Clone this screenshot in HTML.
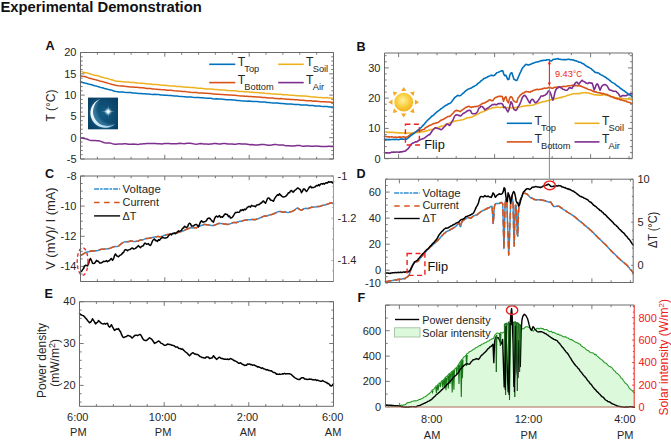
<!DOCTYPE html>
<html><head><meta charset="utf-8"><style>
html,body{margin:0;padding:0;background:#fff;overflow:hidden;width:671px;height:441px;}
svg{display:block;}
svg text{font-family:"Liberation Sans",sans-serif;}
</style></head><body>
<svg width="671" height="441" viewBox="0 0 671 441">
<rect width="671" height="441" fill="#fff"/>
<text x="0.5" y="11.8" font-size="14.2" text-anchor="start" fill="#111" font-weight="bold" textLength="201.3" lengthAdjust="spacingAndGlyphs" >Experimental Demonstration</text>
<text x="45.4" y="50.2" font-size="12.6" text-anchor="start" fill="#111" font-weight="bold"  >A</text>
<text x="356.6" y="50.5" font-size="12.6" text-anchor="start" fill="#111" font-weight="bold"  >B</text>
<text x="44.9" y="178.3" font-size="12.6" text-anchor="start" fill="#111" font-weight="bold"  >C</text>
<text x="356.6" y="178.2" font-size="12.6" text-anchor="start" fill="#111" font-weight="bold"  >D</text>
<text x="44.6" y="297.5" font-size="12.6" text-anchor="start" fill="#111" font-weight="bold"  >E</text>
<text x="357.5" y="302.3" font-size="12.6" text-anchor="start" fill="#111" font-weight="bold"  >F</text>
<text x="76.5" y="162.8" font-size="11.0" text-anchor="end" fill="#262626" font-weight="normal"  >-5</text>
<text x="76.5" y="141.5" font-size="11.0" text-anchor="end" fill="#262626" font-weight="normal"  >0</text>
<text x="76.5" y="120.2" font-size="11.0" text-anchor="end" fill="#262626" font-weight="normal"  >5</text>
<text x="76.5" y="98.89999999999999" font-size="11.0" text-anchor="end" fill="#262626" font-weight="normal"  >10</text>
<text x="76.5" y="77.6" font-size="11.0" text-anchor="end" fill="#262626" font-weight="normal"  >15</text>
<text x="76.5" y="56.3" font-size="11.0" text-anchor="end" fill="#262626" font-weight="normal"  >20</text>
<line x1="80.5" y1="159.0" x2="84.7" y2="159.0" stroke="#6a6a6a" stroke-width="0.9"/>
<line x1="80.5" y1="154.7" x2="82.7" y2="154.7" stroke="#6a6a6a" stroke-width="0.9"/>
<line x1="80.5" y1="150.5" x2="82.7" y2="150.5" stroke="#6a6a6a" stroke-width="0.9"/>
<line x1="80.5" y1="146.2" x2="82.7" y2="146.2" stroke="#6a6a6a" stroke-width="0.9"/>
<line x1="80.5" y1="142.0" x2="82.7" y2="142.0" stroke="#6a6a6a" stroke-width="0.9"/>
<line x1="80.5" y1="137.7" x2="84.7" y2="137.7" stroke="#6a6a6a" stroke-width="0.9"/>
<line x1="80.5" y1="133.4" x2="82.7" y2="133.4" stroke="#6a6a6a" stroke-width="0.9"/>
<line x1="80.5" y1="129.2" x2="82.7" y2="129.2" stroke="#6a6a6a" stroke-width="0.9"/>
<line x1="80.5" y1="124.9" x2="82.7" y2="124.9" stroke="#6a6a6a" stroke-width="0.9"/>
<line x1="80.5" y1="120.7" x2="82.7" y2="120.7" stroke="#6a6a6a" stroke-width="0.9"/>
<line x1="80.5" y1="116.4" x2="84.7" y2="116.4" stroke="#6a6a6a" stroke-width="0.9"/>
<line x1="80.5" y1="112.1" x2="82.7" y2="112.1" stroke="#6a6a6a" stroke-width="0.9"/>
<line x1="80.5" y1="107.9" x2="82.7" y2="107.9" stroke="#6a6a6a" stroke-width="0.9"/>
<line x1="80.5" y1="103.6" x2="82.7" y2="103.6" stroke="#6a6a6a" stroke-width="0.9"/>
<line x1="80.5" y1="99.4" x2="82.7" y2="99.4" stroke="#6a6a6a" stroke-width="0.9"/>
<line x1="80.5" y1="95.1" x2="84.7" y2="95.1" stroke="#6a6a6a" stroke-width="0.9"/>
<line x1="80.5" y1="90.8" x2="82.7" y2="90.8" stroke="#6a6a6a" stroke-width="0.9"/>
<line x1="80.5" y1="86.6" x2="82.7" y2="86.6" stroke="#6a6a6a" stroke-width="0.9"/>
<line x1="80.5" y1="82.3" x2="82.7" y2="82.3" stroke="#6a6a6a" stroke-width="0.9"/>
<line x1="80.5" y1="78.1" x2="82.7" y2="78.1" stroke="#6a6a6a" stroke-width="0.9"/>
<line x1="80.5" y1="73.8" x2="84.7" y2="73.8" stroke="#6a6a6a" stroke-width="0.9"/>
<line x1="80.5" y1="69.5" x2="82.7" y2="69.5" stroke="#6a6a6a" stroke-width="0.9"/>
<line x1="80.5" y1="65.3" x2="82.7" y2="65.3" stroke="#6a6a6a" stroke-width="0.9"/>
<line x1="80.5" y1="61.0" x2="82.7" y2="61.0" stroke="#6a6a6a" stroke-width="0.9"/>
<line x1="80.5" y1="56.8" x2="82.7" y2="56.8" stroke="#6a6a6a" stroke-width="0.9"/>
<line x1="80.5" y1="52.5" x2="84.7" y2="52.5" stroke="#6a6a6a" stroke-width="0.9"/>
<line x1="333.5" y1="159.0" x2="329.3" y2="159.0" stroke="#6a6a6a" stroke-width="0.9"/>
<line x1="333.5" y1="154.7" x2="331.3" y2="154.7" stroke="#6a6a6a" stroke-width="0.9"/>
<line x1="333.5" y1="150.5" x2="331.3" y2="150.5" stroke="#6a6a6a" stroke-width="0.9"/>
<line x1="333.5" y1="146.2" x2="331.3" y2="146.2" stroke="#6a6a6a" stroke-width="0.9"/>
<line x1="333.5" y1="142.0" x2="331.3" y2="142.0" stroke="#6a6a6a" stroke-width="0.9"/>
<line x1="333.5" y1="137.7" x2="329.3" y2="137.7" stroke="#6a6a6a" stroke-width="0.9"/>
<line x1="333.5" y1="133.4" x2="331.3" y2="133.4" stroke="#6a6a6a" stroke-width="0.9"/>
<line x1="333.5" y1="129.2" x2="331.3" y2="129.2" stroke="#6a6a6a" stroke-width="0.9"/>
<line x1="333.5" y1="124.9" x2="331.3" y2="124.9" stroke="#6a6a6a" stroke-width="0.9"/>
<line x1="333.5" y1="120.7" x2="331.3" y2="120.7" stroke="#6a6a6a" stroke-width="0.9"/>
<line x1="333.5" y1="116.4" x2="329.3" y2="116.4" stroke="#6a6a6a" stroke-width="0.9"/>
<line x1="333.5" y1="112.1" x2="331.3" y2="112.1" stroke="#6a6a6a" stroke-width="0.9"/>
<line x1="333.5" y1="107.9" x2="331.3" y2="107.9" stroke="#6a6a6a" stroke-width="0.9"/>
<line x1="333.5" y1="103.6" x2="331.3" y2="103.6" stroke="#6a6a6a" stroke-width="0.9"/>
<line x1="333.5" y1="99.4" x2="331.3" y2="99.4" stroke="#6a6a6a" stroke-width="0.9"/>
<line x1="333.5" y1="95.1" x2="329.3" y2="95.1" stroke="#6a6a6a" stroke-width="0.9"/>
<line x1="333.5" y1="90.8" x2="331.3" y2="90.8" stroke="#6a6a6a" stroke-width="0.9"/>
<line x1="333.5" y1="86.6" x2="331.3" y2="86.6" stroke="#6a6a6a" stroke-width="0.9"/>
<line x1="333.5" y1="82.3" x2="331.3" y2="82.3" stroke="#6a6a6a" stroke-width="0.9"/>
<line x1="333.5" y1="78.1" x2="331.3" y2="78.1" stroke="#6a6a6a" stroke-width="0.9"/>
<line x1="333.5" y1="73.8" x2="329.3" y2="73.8" stroke="#6a6a6a" stroke-width="0.9"/>
<line x1="333.5" y1="69.5" x2="331.3" y2="69.5" stroke="#6a6a6a" stroke-width="0.9"/>
<line x1="333.5" y1="65.3" x2="331.3" y2="65.3" stroke="#6a6a6a" stroke-width="0.9"/>
<line x1="333.5" y1="61.0" x2="331.3" y2="61.0" stroke="#6a6a6a" stroke-width="0.9"/>
<line x1="333.5" y1="56.8" x2="331.3" y2="56.8" stroke="#6a6a6a" stroke-width="0.9"/>
<line x1="333.5" y1="52.5" x2="329.3" y2="52.5" stroke="#6a6a6a" stroke-width="0.9"/>
<line x1="80.5" y1="159.0" x2="80.5" y2="154.8" stroke="#6a6a6a" stroke-width="0.9"/>
<line x1="80.5" y1="52.5" x2="80.5" y2="56.7" stroke="#6a6a6a" stroke-width="0.9"/>
<line x1="97.4" y1="159.0" x2="97.4" y2="156.8" stroke="#6a6a6a" stroke-width="0.9"/>
<line x1="97.4" y1="52.5" x2="97.4" y2="54.7" stroke="#6a6a6a" stroke-width="0.9"/>
<line x1="114.2" y1="159.0" x2="114.2" y2="156.8" stroke="#6a6a6a" stroke-width="0.9"/>
<line x1="114.2" y1="52.5" x2="114.2" y2="54.7" stroke="#6a6a6a" stroke-width="0.9"/>
<line x1="131.1" y1="159.0" x2="131.1" y2="156.8" stroke="#6a6a6a" stroke-width="0.9"/>
<line x1="131.1" y1="52.5" x2="131.1" y2="54.7" stroke="#6a6a6a" stroke-width="0.9"/>
<line x1="148.0" y1="159.0" x2="148.0" y2="156.8" stroke="#6a6a6a" stroke-width="0.9"/>
<line x1="148.0" y1="52.5" x2="148.0" y2="54.7" stroke="#6a6a6a" stroke-width="0.9"/>
<line x1="164.8" y1="159.0" x2="164.8" y2="154.8" stroke="#6a6a6a" stroke-width="0.9"/>
<line x1="164.8" y1="52.5" x2="164.8" y2="56.7" stroke="#6a6a6a" stroke-width="0.9"/>
<line x1="181.7" y1="159.0" x2="181.7" y2="156.8" stroke="#6a6a6a" stroke-width="0.9"/>
<line x1="181.7" y1="52.5" x2="181.7" y2="54.7" stroke="#6a6a6a" stroke-width="0.9"/>
<line x1="198.6" y1="159.0" x2="198.6" y2="156.8" stroke="#6a6a6a" stroke-width="0.9"/>
<line x1="198.6" y1="52.5" x2="198.6" y2="54.7" stroke="#6a6a6a" stroke-width="0.9"/>
<line x1="215.4" y1="159.0" x2="215.4" y2="156.8" stroke="#6a6a6a" stroke-width="0.9"/>
<line x1="215.4" y1="52.5" x2="215.4" y2="54.7" stroke="#6a6a6a" stroke-width="0.9"/>
<line x1="232.3" y1="159.0" x2="232.3" y2="156.8" stroke="#6a6a6a" stroke-width="0.9"/>
<line x1="232.3" y1="52.5" x2="232.3" y2="54.7" stroke="#6a6a6a" stroke-width="0.9"/>
<line x1="249.2" y1="159.0" x2="249.2" y2="154.8" stroke="#6a6a6a" stroke-width="0.9"/>
<line x1="249.2" y1="52.5" x2="249.2" y2="56.7" stroke="#6a6a6a" stroke-width="0.9"/>
<line x1="266.0" y1="159.0" x2="266.0" y2="156.8" stroke="#6a6a6a" stroke-width="0.9"/>
<line x1="266.0" y1="52.5" x2="266.0" y2="54.7" stroke="#6a6a6a" stroke-width="0.9"/>
<line x1="282.9" y1="159.0" x2="282.9" y2="156.8" stroke="#6a6a6a" stroke-width="0.9"/>
<line x1="282.9" y1="52.5" x2="282.9" y2="54.7" stroke="#6a6a6a" stroke-width="0.9"/>
<line x1="299.8" y1="159.0" x2="299.8" y2="156.8" stroke="#6a6a6a" stroke-width="0.9"/>
<line x1="299.8" y1="52.5" x2="299.8" y2="54.7" stroke="#6a6a6a" stroke-width="0.9"/>
<line x1="316.6" y1="159.0" x2="316.6" y2="156.8" stroke="#6a6a6a" stroke-width="0.9"/>
<line x1="316.6" y1="52.5" x2="316.6" y2="54.7" stroke="#6a6a6a" stroke-width="0.9"/>
<line x1="333.5" y1="159.0" x2="333.5" y2="154.8" stroke="#6a6a6a" stroke-width="0.9"/>
<line x1="333.5" y1="52.5" x2="333.5" y2="56.7" stroke="#6a6a6a" stroke-width="0.9"/>
<text transform="translate(54.7,105.5) rotate(-90)" font-size="12" text-anchor="middle" fill="#262626">T (°C)</text>
<polyline points="80.5,71.1 82.5,71.9 84.5,72.4 86.5,72.8 88.5,73.4 90.5,74.0 92.5,74.6 94.5,75.2 96.5,75.5 98.5,76.0 100.5,76.8 102.5,77.3 104.5,77.9 106.6,78.2 108.6,78.9 110.6,79.6 112.6,80.0 114.6,80.7 116.6,81.3 118.6,81.2 120.6,81.4 122.6,81.7 124.6,82.0 126.6,82.0 128.6,82.1 130.6,82.4 132.6,82.4 134.6,82.6 136.6,82.9 138.6,83.1 140.6,83.2 142.6,83.3 144.6,83.5 146.6,83.7 148.6,83.9 150.6,83.9 152.6,84.4 154.6,84.5 156.7,84.6 158.7,84.7 160.7,85.1 162.7,85.2 164.7,85.2 166.7,85.4 168.7,85.7 170.7,85.9 172.7,86.1 174.7,86.1 176.7,86.4 178.7,86.5 180.7,86.6 182.7,86.9 184.7,87.1 186.7,87.3 188.7,87.3 190.7,87.5 192.7,87.5 194.7,87.8 196.7,88.1 198.7,88.2 200.7,88.3 202.7,88.5 204.7,88.7 206.8,88.9 208.8,88.9 210.8,89.1 212.8,89.3 214.8,89.5 216.8,89.6 218.8,89.7 220.8,89.9 222.8,89.9 224.8,90.0 226.8,90.4 228.8,90.6 230.8,90.7 232.8,90.8 234.8,90.8 236.8,91.1 238.8,91.4 240.8,91.5 242.8,91.6 244.8,91.8 246.8,91.8 248.8,92.0 250.8,92.3 252.8,92.3 254.8,92.5 256.8,92.5 258.9,92.8 260.9,93.1 262.9,92.9 264.9,93.3 266.9,93.5 268.9,93.6 270.9,93.8 272.9,93.9 274.9,94.0 276.9,94.2 278.9,94.3 280.9,94.3 282.9,94.7 284.9,94.8 286.9,94.8 288.9,95.1 290.9,95.2 292.9,95.3 294.9,95.5 296.9,95.7 298.9,95.8 300.9,96.0 302.9,96.1 304.9,96.1 306.9,96.3 309.0,96.5 311.0,96.8 313.0,97.0 315.0,97.1 317.0,97.3 319.0,97.4 321.0,97.4 323.0,97.7 325.0,97.8 327.0,97.8 329.0,98.0 331.0,98.1 333.0,98.5" fill="none" stroke="#EDB120" stroke-width="1.5" stroke-linejoin="round" stroke-linecap="round" />
<polyline points="80.5,75.7 82.5,76.3 84.5,76.6 86.5,77.1 88.5,77.9 90.5,78.4 92.5,79.0 94.5,79.4 96.5,80.1 98.5,80.6 100.5,81.2 102.5,81.6 104.5,82.2 106.6,82.8 108.6,83.4 110.6,84.1 112.6,84.6 114.6,85.0 116.6,85.6 118.6,85.8 120.6,85.9 122.6,86.0 124.6,86.3 126.6,86.5 128.6,86.7 130.6,87.0 132.6,87.1 134.6,87.2 136.6,87.3 138.6,87.4 140.6,87.7 142.6,87.8 144.6,88.1 146.6,88.4 148.6,88.5 150.6,88.5 152.6,88.9 154.6,89.1 156.7,89.2 158.7,89.4 160.7,89.6 162.7,89.7 164.7,89.8 166.7,90.2 168.7,90.3 170.7,90.3 172.7,90.6 174.7,90.8 176.7,90.9 178.7,91.1 180.7,91.2 182.7,91.5 184.7,91.6 186.7,91.8 188.7,91.9 190.7,92.2 192.7,92.4 194.7,92.4 196.7,92.6 198.7,92.9 200.7,93.0 202.7,93.1 204.7,93.2 206.8,93.3 208.8,93.6 210.8,93.6 212.8,93.9 214.8,93.9 216.8,94.2 218.8,94.2 220.8,94.5 222.8,94.6 224.8,94.7 226.8,94.8 228.8,95.0 230.8,95.1 232.8,95.2 234.8,95.3 236.8,95.6 238.8,95.8 240.8,95.9 242.8,95.9 244.8,96.2 246.8,96.3 248.8,96.5 250.8,96.5 252.8,96.8 254.8,96.7 256.8,97.0 258.9,97.1 260.9,97.2 262.9,97.5 264.9,97.5 266.9,97.7 268.9,98.0 270.9,97.9 272.9,98.1 274.9,98.4 276.9,98.4 278.9,98.7 280.9,98.6 282.9,98.8 284.9,98.9 286.9,99.2 288.9,99.2 290.9,99.6 292.9,99.5 294.9,99.8 296.9,99.8 298.9,100.0 300.9,100.3 302.9,100.2 304.9,100.4 306.9,100.7 309.0,100.7 311.0,100.8 313.0,101.2 315.0,101.1 317.0,101.2 319.0,101.4 321.0,101.7 323.0,101.8 325.0,101.8 327.0,102.0 329.0,102.1 331.0,102.3 333.0,102.6" fill="none" stroke="#D95319" stroke-width="1.5" stroke-linejoin="round" stroke-linecap="round" />
<polyline points="80.5,81.8 82.5,82.5 84.5,82.9 86.5,83.5 88.5,84.1 90.5,84.5 92.5,85.0 94.5,85.8 96.5,86.1 98.5,86.7 100.5,87.4 102.5,87.8 104.5,88.5 106.6,88.9 108.6,89.5 110.6,89.9 112.6,90.5 114.6,91.2 116.6,91.6 118.6,91.9 120.6,92.0 122.6,92.0 124.6,92.3 126.6,92.4 128.6,92.5 130.6,92.5 132.6,92.9 134.6,93.0 136.6,93.2 138.6,93.4 140.6,93.5 142.6,93.7 144.6,93.7 146.6,93.9 148.6,94.0 150.6,94.3 152.6,94.4 154.6,94.3 156.7,94.5 158.7,94.6 160.7,95.0 162.7,95.0 164.7,95.2 166.7,95.2 168.7,95.4 170.7,95.5 172.7,95.7 174.7,95.9 176.7,96.0 178.7,96.3 180.7,96.4 182.7,96.6 184.7,96.7 186.7,96.9 188.7,96.9 190.7,96.9 192.7,97.3 194.7,97.5 196.7,97.6 198.7,97.6 200.7,97.8 202.7,97.8 204.7,98.1 206.8,98.2 208.8,98.3 210.8,98.3 212.8,98.7 214.8,98.9 216.8,98.8 218.8,99.1 220.8,99.1 222.8,99.2 224.8,99.4 226.8,99.7 228.8,99.8 230.8,99.7 232.8,100.1 234.8,100.0 236.8,100.4 238.8,100.4 240.8,100.7 242.8,100.9 244.8,100.9 246.8,101.2 248.8,101.1 250.8,101.2 252.8,101.5 254.8,101.4 256.8,101.6 258.9,101.8 260.9,102.0 262.9,102.0 264.9,102.1 266.9,102.5 268.9,102.5 270.9,102.8 272.9,103.0 274.9,103.0 276.9,103.1 278.9,103.3 280.9,103.5 282.9,103.6 284.9,103.7 286.9,103.9 288.9,104.1 290.9,104.1 292.9,104.2 294.9,104.5 296.9,104.5 298.9,104.6 300.9,105.0 302.9,105.0 304.9,105.1 306.9,105.1 309.0,105.4 311.0,105.6 313.0,105.5 315.0,105.9 317.0,106.0 319.0,106.0 321.0,106.3 323.0,106.4 325.0,106.6 327.0,106.6 329.0,106.9 331.0,107.0 333.0,107.0" fill="none" stroke="#0072BD" stroke-width="1.5" stroke-linejoin="round" stroke-linecap="round" />
<polyline points="80.5,137.9 82.0,138.1 83.5,138.4 85.0,138.6 86.5,139.0 88.0,139.5 89.5,140.1 91.0,140.5 92.5,140.6 94.0,140.5 95.5,140.6 97.0,140.7 98.5,140.8 100.0,141.1 101.5,141.6 103.0,142.3 104.5,142.7 106.1,142.9 107.6,142.9 109.1,142.9 110.6,143.1 112.1,143.6 113.6,144.1 115.1,144.3 116.6,144.3 118.1,144.0 119.6,144.0 121.1,144.0 122.6,143.9 124.1,143.7 125.6,143.7 127.1,143.9 128.6,144.2 130.1,144.2 131.6,144.2 133.1,144.1 134.6,144.2 136.1,144.3 137.6,144.4 139.1,144.3 140.6,144.1 142.1,143.9 143.6,143.8 145.1,143.7 146.6,143.6 148.1,143.6 149.6,143.6 151.1,143.5 152.6,143.4 154.1,143.5 155.6,143.6 157.2,143.7 158.7,143.8 160.2,143.8 161.7,143.9 163.2,143.7 164.7,143.6 166.2,143.5 167.7,143.6 169.2,143.6 170.7,143.7 172.2,143.7 173.7,143.8 175.2,143.8 176.7,143.7 178.2,143.4 179.7,143.3 181.2,143.4 182.7,143.6 184.2,143.7 185.7,143.5 187.2,143.3 188.7,143.2 190.2,143.3 191.7,143.4 193.2,143.8 194.7,144.1 196.2,144.3 197.7,144.1 199.2,143.8 200.7,143.6 202.2,143.7 203.7,143.9 205.2,144.1 206.8,144.1 208.3,144.2 209.8,144.1 211.3,144.0 212.8,143.8 214.3,143.6 215.8,143.6 217.3,143.7 218.8,143.9 220.3,144.0 221.8,143.8 223.3,143.6 224.8,143.5 226.3,143.7 227.8,144.0 229.3,144.0 230.8,144.0 232.3,144.1 233.8,144.3 235.3,144.2 236.8,144.0 238.3,143.7 239.8,143.8 241.3,144.0 242.8,144.1 244.3,144.1 245.8,144.1 247.3,144.3 248.8,144.5 250.3,144.7 251.8,144.6 253.3,144.7 254.8,144.9 256.3,145.0 257.9,145.0 259.4,144.8 260.9,144.6 262.4,144.5 263.9,144.4 265.4,144.7 266.9,144.9 268.4,145.2 269.9,145.2 271.4,145.0 272.9,144.7 274.4,144.6 275.9,144.6 277.4,144.8 278.9,144.9 280.4,145.1 281.9,145.0 283.4,145.1 284.9,145.5 286.4,145.7 287.9,145.8 289.4,145.8 290.9,145.9 292.4,145.9 293.9,145.9 295.4,145.7 296.9,145.5 298.4,145.4 299.9,145.5 301.4,145.9 302.9,146.2 304.4,146.2 305.9,146.0 307.4,146.0 309.0,146.1 310.5,146.2 312.0,146.2 313.5,146.2 315.0,146.1 316.5,146.1 318.0,146.2 319.5,146.3 321.0,146.4 322.5,146.4 324.0,146.5 325.5,146.5 327.0,146.5 328.5,146.2 330.0,146.3 331.5,146.4 333.0,146.6" fill="none" stroke="#7E2F8E" stroke-width="1.5" stroke-linejoin="round" stroke-linecap="round" />
<line x1="209.2" y1="64.3" x2="235.3" y2="64.3" stroke="#0072BD" stroke-width="1.6"/>
<text x="237.70000000000002" y="65.6" font-size="12.2" text-anchor="start" fill="#262626" font-weight="normal"  >T</text>
<text x="244.3" y="71.5" font-size="9.3" text-anchor="start" fill="#262626" font-weight="normal"  >Top</text>
<line x1="278.2" y1="64.3" x2="303.7" y2="64.3" stroke="#EDB120" stroke-width="1.6"/>
<text x="306.09999999999997" y="65.6" font-size="12.2" text-anchor="start" fill="#262626" font-weight="normal"  >T</text>
<text x="312.7" y="71.5" font-size="9.3" text-anchor="start" fill="#262626" font-weight="normal"  >Soil</text>
<line x1="209.2" y1="82.6" x2="235.3" y2="82.6" stroke="#D95319" stroke-width="1.6"/>
<text x="237.70000000000002" y="83.89999999999999" font-size="12.2" text-anchor="start" fill="#262626" font-weight="normal"  >T</text>
<text x="244.3" y="89.8" font-size="9.3" text-anchor="start" fill="#262626" font-weight="normal"  >Bottom</text>
<line x1="278.2" y1="82.6" x2="303.7" y2="82.6" stroke="#7E2F8E" stroke-width="1.6"/>
<text x="306.09999999999997" y="83.89999999999999" font-size="12.2" text-anchor="start" fill="#262626" font-weight="normal"  >T</text>
<text x="312.7" y="89.8" font-size="9.3" text-anchor="start" fill="#262626" font-weight="normal"  >Air</text>
<defs><radialGradient id="mg" cx="0.5" cy="0.5" r="0.7"><stop offset="0" stop-color="#135d86"/><stop offset="1" stop-color="#083c60"/></radialGradient>
<radialGradient id="sg" cx="0.5" cy="0.5" r="0.5"><stop offset="0" stop-color="#ffffff"/><stop offset="0.4" stop-color="#dff4ff" stop-opacity="0.9"/><stop offset="1" stop-color="#7fc4e8" stop-opacity="0"/></radialGradient>
<radialGradient id="sun" cx="0.45" cy="0.4" r="0.6"><stop offset="0" stop-color="#fff1a0"/><stop offset="0.55" stop-color="#f9d040"/><stop offset="1" stop-color="#f2b020"/></radialGradient>
<linearGradient id="cg" x1="0" y1="0" x2="1" y2="0.3"><stop offset="0" stop-color="#ffffff"/><stop offset="0.5" stop-color="#cfe9f7"/><stop offset="1" stop-color="#9fd0ec"/></linearGradient><filter id="gl" x="-0.3" y="-0.3" width="1.6" height="1.6"><feGaussianBlur stdDeviation="1.2"/></filter><clipPath id="mclip"><rect x="88" y="97.6" width="30" height="31.7"/></clipPath></defs>
<rect x="88" y="97.6" width="30" height="31.7" fill="url(#mg)"/>
<path d="M100.2,99.0 A14.8,14.8 0 1 0 115.0,124.0 A15.2,15.2 0 0 1 100.2,99.0 Z" fill="#8fd0f0" opacity="0.3" filter="url(#gl)"/>
<path d="M100.2,99.0 A14.8,14.8 0 1 0 115.0,124.0 A14.4,14.4 0 0 1 100.2,99.0 Z" fill="url(#cg)"/>
<circle cx="108.1" cy="111.6" r="4.2" fill="url(#sg)" opacity="0.8"/>
<path d="M108.1,105.0 L108.45,111.25 L114.8,111.6 L108.45,111.95 L108.1,118.0 L107.75,111.95 L101.4,111.6 L107.75,111.25 Z" fill="#e8f6ff" opacity="0.85"/>
<circle cx="108.1" cy="111.6" r="1.5" fill="#ffffff"/>
<line x1="80.5" y1="52.5" x2="333.5" y2="52.5" stroke="#6a6a6a" stroke-width="1"/>
<line x1="80.5" y1="159.0" x2="333.5" y2="159.0" stroke="#6a6a6a" stroke-width="1"/>
<line x1="80.5" y1="52.5" x2="80.5" y2="159.0" stroke="#6a6a6a" stroke-width="1"/>
<line x1="333.5" y1="52.5" x2="333.5" y2="159.0" stroke="#6a6a6a" stroke-width="1"/>
<text x="76.5" y="179.8" font-size="11.0" text-anchor="end" fill="#262626" font-weight="normal"  >-8</text>
<text x="76.5" y="209.94285714285715" font-size="11.0" text-anchor="end" fill="#262626" font-weight="normal"  >-10</text>
<text x="76.5" y="240.0857142857143" font-size="11.0" text-anchor="end" fill="#262626" font-weight="normal"  >-12</text>
<text x="76.5" y="270.22857142857146" font-size="11.0" text-anchor="end" fill="#262626" font-weight="normal"  >-14</text>
<text x="337.5" y="179.8" font-size="11.0" text-anchor="start" fill="#262626" font-weight="normal"  >-1</text>
<text x="337.5" y="222.0" font-size="11.0" text-anchor="start" fill="#262626" font-weight="normal"  >-1.2</text>
<text x="337.5" y="264.2" font-size="11.0" text-anchor="start" fill="#262626" font-weight="normal"  >-1.4</text>
<line x1="80.5" y1="281.5" x2="82.7" y2="281.5" stroke="#6a6a6a" stroke-width="0.9"/>
<line x1="80.5" y1="274.0" x2="82.7" y2="274.0" stroke="#6a6a6a" stroke-width="0.9"/>
<line x1="80.5" y1="266.4" x2="84.7" y2="266.4" stroke="#6a6a6a" stroke-width="0.9"/>
<line x1="80.5" y1="258.9" x2="82.7" y2="258.9" stroke="#6a6a6a" stroke-width="0.9"/>
<line x1="80.5" y1="251.4" x2="82.7" y2="251.4" stroke="#6a6a6a" stroke-width="0.9"/>
<line x1="80.5" y1="243.8" x2="82.7" y2="243.8" stroke="#6a6a6a" stroke-width="0.9"/>
<line x1="80.5" y1="236.3" x2="84.7" y2="236.3" stroke="#6a6a6a" stroke-width="0.9"/>
<line x1="80.5" y1="228.8" x2="82.7" y2="228.8" stroke="#6a6a6a" stroke-width="0.9"/>
<line x1="80.5" y1="221.2" x2="82.7" y2="221.2" stroke="#6a6a6a" stroke-width="0.9"/>
<line x1="80.5" y1="213.7" x2="82.7" y2="213.7" stroke="#6a6a6a" stroke-width="0.9"/>
<line x1="80.5" y1="206.1" x2="84.7" y2="206.1" stroke="#6a6a6a" stroke-width="0.9"/>
<line x1="80.5" y1="198.6" x2="82.7" y2="198.6" stroke="#6a6a6a" stroke-width="0.9"/>
<line x1="80.5" y1="191.1" x2="82.7" y2="191.1" stroke="#6a6a6a" stroke-width="0.9"/>
<line x1="80.5" y1="183.5" x2="82.7" y2="183.5" stroke="#6a6a6a" stroke-width="0.9"/>
<line x1="80.5" y1="176.0" x2="84.7" y2="176.0" stroke="#6a6a6a" stroke-width="0.9"/>
<line x1="333.5" y1="281.5" x2="332.2" y2="281.5" stroke="#9a9a9a" stroke-width="0.9"/>
<line x1="333.5" y1="270.9" x2="332.2" y2="270.9" stroke="#9a9a9a" stroke-width="0.9"/>
<line x1="333.5" y1="260.4" x2="331.5" y2="260.4" stroke="#9a9a9a" stroke-width="0.9"/>
<line x1="333.5" y1="249.9" x2="332.2" y2="249.9" stroke="#9a9a9a" stroke-width="0.9"/>
<line x1="333.5" y1="239.3" x2="332.2" y2="239.3" stroke="#9a9a9a" stroke-width="0.9"/>
<line x1="333.5" y1="228.8" x2="332.2" y2="228.8" stroke="#9a9a9a" stroke-width="0.9"/>
<line x1="333.5" y1="218.2" x2="331.5" y2="218.2" stroke="#9a9a9a" stroke-width="0.9"/>
<line x1="333.5" y1="207.6" x2="332.2" y2="207.6" stroke="#9a9a9a" stroke-width="0.9"/>
<line x1="333.5" y1="197.1" x2="332.2" y2="197.1" stroke="#9a9a9a" stroke-width="0.9"/>
<line x1="333.5" y1="186.6" x2="332.2" y2="186.6" stroke="#9a9a9a" stroke-width="0.9"/>
<line x1="333.5" y1="176.0" x2="331.5" y2="176.0" stroke="#9a9a9a" stroke-width="0.9"/>
<line x1="80.5" y1="281.5" x2="80.5" y2="277.3" stroke="#6a6a6a" stroke-width="0.9"/>
<line x1="80.5" y1="176.0" x2="80.5" y2="180.2" stroke="#6a6a6a" stroke-width="0.9"/>
<line x1="97.4" y1="281.5" x2="97.4" y2="279.3" stroke="#6a6a6a" stroke-width="0.9"/>
<line x1="97.4" y1="176.0" x2="97.4" y2="178.2" stroke="#6a6a6a" stroke-width="0.9"/>
<line x1="114.2" y1="281.5" x2="114.2" y2="279.3" stroke="#6a6a6a" stroke-width="0.9"/>
<line x1="114.2" y1="176.0" x2="114.2" y2="178.2" stroke="#6a6a6a" stroke-width="0.9"/>
<line x1="131.1" y1="281.5" x2="131.1" y2="279.3" stroke="#6a6a6a" stroke-width="0.9"/>
<line x1="131.1" y1="176.0" x2="131.1" y2="178.2" stroke="#6a6a6a" stroke-width="0.9"/>
<line x1="148.0" y1="281.5" x2="148.0" y2="279.3" stroke="#6a6a6a" stroke-width="0.9"/>
<line x1="148.0" y1="176.0" x2="148.0" y2="178.2" stroke="#6a6a6a" stroke-width="0.9"/>
<line x1="164.8" y1="281.5" x2="164.8" y2="277.3" stroke="#6a6a6a" stroke-width="0.9"/>
<line x1="164.8" y1="176.0" x2="164.8" y2="180.2" stroke="#6a6a6a" stroke-width="0.9"/>
<line x1="181.7" y1="281.5" x2="181.7" y2="279.3" stroke="#6a6a6a" stroke-width="0.9"/>
<line x1="181.7" y1="176.0" x2="181.7" y2="178.2" stroke="#6a6a6a" stroke-width="0.9"/>
<line x1="198.6" y1="281.5" x2="198.6" y2="279.3" stroke="#6a6a6a" stroke-width="0.9"/>
<line x1="198.6" y1="176.0" x2="198.6" y2="178.2" stroke="#6a6a6a" stroke-width="0.9"/>
<line x1="215.4" y1="281.5" x2="215.4" y2="279.3" stroke="#6a6a6a" stroke-width="0.9"/>
<line x1="215.4" y1="176.0" x2="215.4" y2="178.2" stroke="#6a6a6a" stroke-width="0.9"/>
<line x1="232.3" y1="281.5" x2="232.3" y2="279.3" stroke="#6a6a6a" stroke-width="0.9"/>
<line x1="232.3" y1="176.0" x2="232.3" y2="178.2" stroke="#6a6a6a" stroke-width="0.9"/>
<line x1="249.2" y1="281.5" x2="249.2" y2="277.3" stroke="#6a6a6a" stroke-width="0.9"/>
<line x1="249.2" y1="176.0" x2="249.2" y2="180.2" stroke="#6a6a6a" stroke-width="0.9"/>
<line x1="266.0" y1="281.5" x2="266.0" y2="279.3" stroke="#6a6a6a" stroke-width="0.9"/>
<line x1="266.0" y1="176.0" x2="266.0" y2="178.2" stroke="#6a6a6a" stroke-width="0.9"/>
<line x1="282.9" y1="281.5" x2="282.9" y2="279.3" stroke="#6a6a6a" stroke-width="0.9"/>
<line x1="282.9" y1="176.0" x2="282.9" y2="178.2" stroke="#6a6a6a" stroke-width="0.9"/>
<line x1="299.8" y1="281.5" x2="299.8" y2="279.3" stroke="#6a6a6a" stroke-width="0.9"/>
<line x1="299.8" y1="176.0" x2="299.8" y2="178.2" stroke="#6a6a6a" stroke-width="0.9"/>
<line x1="316.6" y1="281.5" x2="316.6" y2="279.3" stroke="#6a6a6a" stroke-width="0.9"/>
<line x1="316.6" y1="176.0" x2="316.6" y2="178.2" stroke="#6a6a6a" stroke-width="0.9"/>
<line x1="333.5" y1="281.5" x2="333.5" y2="277.3" stroke="#6a6a6a" stroke-width="0.9"/>
<line x1="333.5" y1="176.0" x2="333.5" y2="180.2" stroke="#6a6a6a" stroke-width="0.9"/>
<text transform="translate(54.6,228.6) rotate(-90)" font-size="12" text-anchor="middle" textLength="82.5" lengthAdjust="spacingAndGlyphs" fill="#262626">V (mV)/ I (mA)</text>
<polyline points="80.5,255.5 81.5,255.0 82.5,254.4 83.5,253.8 84.5,253.0 85.5,252.6 86.5,252.2 87.5,251.9 88.5,251.8 89.5,251.4 90.5,251.2 91.5,250.8 92.5,251.0 93.5,251.0 94.5,250.9 95.5,250.8 96.5,250.7 97.5,250.7 98.5,250.4 99.5,249.9 100.5,249.4 101.5,249.2 102.5,249.2 103.5,249.2 104.5,249.0 105.5,249.0 106.5,249.0 107.5,248.8 108.5,248.7 109.5,248.4 110.5,248.1 111.5,247.6 112.5,247.2 113.5,246.9 114.5,246.6 115.5,246.5 116.5,246.4 117.5,246.4 118.5,246.1 119.5,245.2 120.5,244.4 121.5,243.6 122.5,242.8 123.5,242.4 124.5,241.8 125.5,241.9 126.5,241.6 127.5,241.7 128.5,241.6 129.5,241.4 130.5,240.9 131.5,241.0 132.5,241.3 133.5,241.6 134.5,241.5 135.5,241.4 136.5,241.3 137.5,241.2 138.5,241.0 139.5,240.4 140.5,239.9 141.5,239.9 142.5,239.9 143.5,239.6 144.5,239.1 145.5,238.7 146.5,238.4 147.5,238.5 148.5,238.3 149.5,238.3 150.5,237.9 151.5,237.7 152.5,237.5 153.5,237.2 154.5,237.1 155.5,236.8 156.5,236.8 157.5,236.6 158.5,236.5 159.5,236.7 160.5,236.8 161.5,236.5 162.5,236.2 163.5,235.6 164.5,235.3 165.5,235.0 166.5,234.8 167.5,234.5 168.5,234.4 169.5,234.1 170.5,233.9 171.5,233.7 172.5,233.5 173.5,233.4 174.5,232.9 175.5,232.7 176.5,232.6 177.5,232.5 178.5,232.5 179.5,232.0 180.5,231.7 181.5,231.5 182.5,231.1 183.5,230.8 184.5,230.3 185.5,229.8 186.5,229.2 187.5,228.8 188.5,228.6 189.5,228.3 190.5,227.8 191.5,227.7 192.5,227.9 193.5,227.8 194.5,227.8 195.5,227.7 196.5,227.7 197.5,227.3 198.5,226.6 199.5,226.0 200.5,225.8 201.5,225.4 202.5,225.3 203.5,224.6 204.5,224.4 205.5,224.6 206.5,224.8 207.5,224.7 208.5,225.0 209.5,225.1 210.5,225.3 211.5,225.5 212.5,225.6 213.5,225.5 214.5,225.1 215.5,224.8 216.5,224.4 217.5,224.0 218.5,223.4 219.5,223.3 220.5,223.4 221.5,223.5 222.5,223.6 223.5,223.9 224.5,223.9 225.5,224.0 226.5,224.2 227.5,224.4 228.5,224.3 229.5,224.1 230.5,223.7 231.5,223.3 232.5,222.9 233.5,222.5 234.5,222.5 235.5,222.5 236.5,222.7 237.5,222.1 238.5,221.8 239.5,221.3 240.5,221.4 241.5,221.0 242.5,220.9 243.5,220.4 244.5,220.3 245.5,219.9 246.5,220.1 247.5,220.0 248.5,219.9 249.5,219.7 250.5,219.7 251.5,219.4 252.5,219.4 253.5,219.5 254.5,219.8 255.5,219.5 256.5,219.2 257.5,218.8 258.5,218.6 259.5,218.2 260.5,217.7 261.5,217.3 262.5,216.9 263.5,216.4 264.5,216.0 265.5,215.9 266.5,216.0 267.5,215.8 268.5,215.3 269.5,215.0 270.5,214.7 271.5,214.5 272.5,214.2 273.5,213.8 274.5,213.6 275.5,212.8 276.5,212.5 277.5,211.9 278.5,211.5 279.5,211.5 280.5,211.6 281.5,211.9 282.5,212.1 283.5,212.1 284.5,212.0 285.5,211.9 286.5,212.2 287.5,212.4 288.5,212.4 289.5,212.1 290.5,211.9 291.5,211.6 292.5,211.3 293.5,210.7 294.5,210.1 295.5,209.2 296.5,208.6 297.5,208.0 298.5,208.5 299.5,209.3 300.5,209.8 301.5,210.3 302.5,209.6 303.5,209.0 304.5,208.5 305.5,208.3 306.5,208.5 307.5,208.5 308.5,208.4 309.5,208.0 310.5,207.7 311.5,207.3 312.5,207.2 313.5,207.1 314.5,207.0 315.5,206.9 316.5,206.8 317.5,206.6 318.5,206.4 319.5,206.4 320.5,206.3 321.5,205.9 322.5,205.3 323.5,205.3 324.5,205.1 325.5,205.0 326.5,204.4 327.5,204.2 328.5,203.8 329.5,203.3 330.5,203.0 331.5,202.8 332.5,203.3 333.5,203.8" fill="none" stroke="#2e8fd6" stroke-width="1.5" stroke-linejoin="round" stroke-linecap="round" stroke-dasharray="5 1 2.5 1"/>
<polyline points="80.5,255.5 81.5,255.0 82.5,254.4 83.5,253.8 84.5,253.0 85.5,252.6 86.5,252.2 87.5,251.9 88.5,251.8 89.5,251.4 90.5,251.2 91.5,250.8 92.5,251.0 93.5,251.0 94.5,250.9 95.5,250.8 96.5,250.7 97.5,250.7 98.5,250.4 99.5,249.9 100.5,249.4 101.5,249.2 102.5,249.2 103.5,249.2 104.5,249.0 105.5,249.0 106.5,249.0 107.5,248.8 108.5,248.7 109.5,248.4 110.5,248.1 111.5,247.6 112.5,247.2 113.5,246.9 114.5,246.6 115.5,246.5 116.5,246.4 117.5,246.4 118.5,246.1 119.5,245.2 120.5,244.4 121.5,243.6 122.5,242.8 123.5,242.4 124.5,241.8 125.5,241.9 126.5,241.6 127.5,241.7 128.5,241.6 129.5,241.4 130.5,240.9 131.5,241.0 132.5,241.3 133.5,241.6 134.5,241.5 135.5,241.4 136.5,241.3 137.5,241.2 138.5,241.0 139.5,240.4 140.5,239.9 141.5,239.9 142.5,239.9 143.5,239.6 144.5,239.1 145.5,238.7 146.5,238.4 147.5,238.5 148.5,238.3 149.5,238.3 150.5,237.9 151.5,237.7 152.5,237.5 153.5,237.2 154.5,237.1 155.5,236.8 156.5,236.8 157.5,236.6 158.5,236.5 159.5,236.7 160.5,236.8 161.5,236.5 162.5,236.2 163.5,235.6 164.5,235.3 165.5,235.0 166.5,234.8 167.5,234.5 168.5,234.4 169.5,234.1 170.5,233.9 171.5,233.7 172.5,233.5 173.5,233.4 174.5,232.9 175.5,232.7 176.5,232.6 177.5,232.5 178.5,232.5 179.5,232.0 180.5,231.7 181.5,231.5 182.5,231.1 183.5,230.8 184.5,230.3 185.5,229.8 186.5,229.2 187.5,228.8 188.5,228.6 189.5,228.3 190.5,227.8 191.5,227.7 192.5,227.9 193.5,227.8 194.5,227.8 195.5,227.7 196.5,227.7 197.5,227.3 198.5,226.6 199.5,226.0 200.5,225.8 201.5,225.4 202.5,225.3 203.5,224.6 204.5,224.4 205.5,224.6 206.5,224.8 207.5,224.7 208.5,225.0 209.5,225.1 210.5,225.3 211.5,225.5 212.5,225.6 213.5,225.5 214.5,225.1 215.5,224.8 216.5,224.4 217.5,224.0 218.5,223.4 219.5,223.3 220.5,223.4 221.5,223.5 222.5,223.6 223.5,223.9 224.5,223.9 225.5,224.0 226.5,224.2 227.5,224.4 228.5,224.3 229.5,224.1 230.5,223.7 231.5,223.3 232.5,222.9 233.5,222.5 234.5,222.5 235.5,222.5 236.5,222.7 237.5,222.1 238.5,221.8 239.5,221.3 240.5,221.4 241.5,221.0 242.5,220.9 243.5,220.4 244.5,220.3 245.5,219.9 246.5,220.1 247.5,220.0 248.5,219.9 249.5,219.7 250.5,219.7 251.5,219.4 252.5,219.4 253.5,219.5 254.5,219.8 255.5,219.5 256.5,219.2 257.5,218.8 258.5,218.6 259.5,218.2 260.5,217.7 261.5,217.3 262.5,216.9 263.5,216.4 264.5,216.0 265.5,215.9 266.5,216.0 267.5,215.8 268.5,215.3 269.5,215.0 270.5,214.7 271.5,214.5 272.5,214.2 273.5,213.8 274.5,213.6 275.5,212.8 276.5,212.5 277.5,211.9 278.5,211.5 279.5,211.5 280.5,211.6 281.5,211.9 282.5,212.1 283.5,212.1 284.5,212.0 285.5,211.9 286.5,212.2 287.5,212.4 288.5,212.4 289.5,212.1 290.5,211.9 291.5,211.6 292.5,211.3 293.5,210.7 294.5,210.1 295.5,209.2 296.5,208.6 297.5,208.0 298.5,208.5 299.5,209.3 300.5,209.8 301.5,210.3 302.5,209.6 303.5,209.0 304.5,208.5 305.5,208.3 306.5,208.5 307.5,208.5 308.5,208.4 309.5,208.0 310.5,207.7 311.5,207.3 312.5,207.2 313.5,207.1 314.5,207.0 315.5,206.9 316.5,206.8 317.5,206.6 318.5,206.4 319.5,206.4 320.5,206.3 321.5,205.9 322.5,205.3 323.5,205.3 324.5,205.1 325.5,205.0 326.5,204.4 327.5,204.2 328.5,203.8 329.5,203.3 330.5,203.0 331.5,202.8 332.5,203.3 333.5,203.8" fill="none" stroke="#D95319" stroke-width="1.5" stroke-linejoin="round" stroke-linecap="round" stroke-dasharray="5.5 4.5" stroke-linecap="butt"/>
<polyline points="80.5,272.0 81.5,271.3 82.5,269.8 83.5,268.6 84.5,266.1 85.5,265.3 86.5,265.5 87.5,265.9 88.5,264.0 89.5,260.1 90.5,258.5 91.5,260.6 92.5,263.3 93.5,263.4 94.5,263.3 95.5,262.1 96.5,260.4 97.5,261.2 98.5,261.3 99.5,262.9 100.5,263.1 101.5,262.8 102.5,262.1 103.5,261.2 104.5,261.4 105.5,261.3 106.5,260.5 107.5,261.7 108.5,261.0 109.5,260.5 110.5,259.1 111.5,258.5 112.5,260.4 113.5,258.9 114.5,255.7 115.5,254.0 116.5,255.7 117.5,256.1 118.5,256.8 119.5,255.8 120.5,254.9 121.5,254.6 122.5,252.8 123.5,252.7 124.5,250.3 125.5,249.6 126.5,249.9 127.5,250.8 128.5,249.9 129.5,249.6 130.5,249.2 131.5,248.3 132.5,248.1 133.5,248.9 134.5,248.7 135.5,248.4 136.5,247.4 137.5,246.7 138.5,245.6 139.5,246.9 140.5,247.7 141.5,246.4 142.5,246.0 143.5,245.5 144.5,243.2 145.5,243.2 146.5,244.2 147.5,244.1 148.5,243.6 149.5,245.1 150.5,245.5 151.5,243.6 152.5,240.9 153.5,239.6 154.5,239.0 155.5,240.7 156.5,240.4 157.5,241.5 158.5,239.6 159.5,240.3 160.5,238.8 161.5,238.2 162.5,237.0 163.5,237.8 164.5,237.9 165.5,238.1 166.5,237.7 167.5,237.4 168.5,235.7 169.5,234.7 170.5,234.2 171.5,234.9 172.5,233.6 173.5,233.6 174.5,233.0 175.5,233.8 176.5,232.9 177.5,232.1 178.5,230.8 179.5,231.3 180.5,230.9 181.5,230.3 182.5,228.3 183.5,228.1 184.5,226.2 185.5,227.0 186.5,227.4 187.5,226.9 188.5,224.2 189.5,223.2 190.5,223.8 191.5,226.1 192.5,226.1 193.5,226.0 194.5,225.0 195.5,224.6 196.5,224.5 197.5,225.5 198.5,226.8 199.5,224.4 200.5,221.9 201.5,220.7 202.5,221.9 203.5,222.1 204.5,221.7 205.5,221.4 206.5,220.7 207.5,218.7 208.5,218.3 209.5,218.1 210.5,219.1 211.5,220.4 212.5,221.4 213.5,222.1 214.5,218.9 215.5,216.8 216.5,216.0 217.5,217.0 218.5,216.5 219.5,215.5 220.5,217.4 221.5,216.8 222.5,217.2 223.5,216.1 224.5,214.4 225.5,213.8 226.5,214.6 227.5,214.6 228.5,216.6 229.5,216.0 230.5,218.1 231.5,217.8 232.5,217.0 233.5,215.8 234.5,213.7 235.5,212.6 236.5,212.5 237.5,212.1 238.5,212.4 239.5,212.1 240.5,210.0 241.5,210.6 242.5,209.5 243.5,210.4 244.5,209.1 245.5,209.7 246.5,208.5 247.5,207.3 248.5,206.6 249.5,206.5 250.5,207.1 251.5,205.3 252.5,206.0 253.5,206.1 254.5,206.2 255.5,206.8 256.5,205.0 257.5,205.1 258.5,204.5 259.5,204.5 260.5,203.1 261.5,203.1 262.5,201.5 263.5,201.0 264.5,202.3 265.5,203.3 266.5,201.0 267.5,198.4 268.5,197.9 269.5,198.5 270.5,200.0 271.5,200.3 272.5,200.6 273.5,201.3 274.5,198.8 275.5,197.2 276.5,195.9 277.5,194.7 278.5,195.3 279.5,193.7 280.5,194.9 281.5,195.9 282.5,196.8 283.5,197.0 284.5,196.8 285.5,196.4 286.5,195.6 287.5,194.3 288.5,192.7 289.5,192.8 290.5,190.9 291.5,190.5 292.5,191.9 293.5,192.0 294.5,190.5 295.5,189.8 296.5,189.0 297.5,187.9 298.5,188.2 299.5,189.1 300.5,189.9 301.5,192.7 302.5,191.1 303.5,188.9 304.5,188.9 305.5,190.5 306.5,191.4 307.5,190.2 308.5,188.7 309.5,187.0 310.5,186.3 311.5,187.7 312.5,187.6 313.5,187.5 314.5,187.1 315.5,186.5 316.5,185.5 317.5,185.9 318.5,184.6 319.5,185.6 320.5,184.2 321.5,183.7 322.5,184.2 323.5,183.4 324.5,184.1 325.5,183.0 326.5,182.7 327.5,183.0 328.5,181.6 329.5,182.2 330.5,182.0 331.5,181.8 332.5,183.0 333.5,181.8" fill="none" stroke="#000" stroke-width="1.5" stroke-linejoin="round" stroke-linecap="round" />
<line x1="94.1" y1="189.1" x2="120.1" y2="189.1" stroke="#2e8fd6" stroke-width="1.5" stroke-dasharray="5 1 2.5 1"/>
<line x1="94.1" y1="202.5" x2="120.1" y2="202.5" stroke="#D95319" stroke-width="1.5" stroke-dasharray="5.5 4.5"/>
<line x1="94.1" y1="215.9" x2="120.1" y2="215.9" stroke="#000" stroke-width="1.4"/>
<text x="122.6" y="192.8" font-size="10.9" text-anchor="start" fill="#262626" font-weight="normal" textLength="38.2" lengthAdjust="spacingAndGlyphs" >Voltage</text>
<text x="122.6" y="206.2" font-size="10.9" text-anchor="start" fill="#262626" font-weight="normal"  >Current</text>
<text x="122.6" y="219.6" font-size="10.9" text-anchor="start" fill="#262626" font-weight="normal"  >ΔT</text>
<ellipse cx="82.6" cy="261.5" rx="5.4" ry="13.8" fill="none" stroke="#ee2020" stroke-width="1.3" stroke-dasharray="3.5 2.5"/>
<line x1="80.5" y1="176.0" x2="333.5" y2="176.0" stroke="#6a6a6a" stroke-width="1"/>
<line x1="80.5" y1="281.5" x2="333.5" y2="281.5" stroke="#6a6a6a" stroke-width="1"/>
<line x1="80.5" y1="176.0" x2="80.5" y2="281.5" stroke="#6a6a6a" stroke-width="1"/>
<line x1="333.5" y1="176.0" x2="333.5" y2="281.5" stroke="#9a9a9a" stroke-width="1"/>
<text x="75.6" y="388.78000000000003" font-size="11.0" text-anchor="end" fill="#262626" font-weight="normal"  >20</text>
<text x="75.6" y="346.94" font-size="11.0" text-anchor="end" fill="#262626" font-weight="normal"  >30</text>
<text x="75.6" y="305.1" font-size="11.0" text-anchor="end" fill="#262626" font-weight="normal"  >40</text>
<line x1="79.5" y1="402.1" x2="81.7" y2="402.1" stroke="#6a6a6a" stroke-width="0.9"/>
<line x1="79.5" y1="393.7" x2="81.7" y2="393.7" stroke="#6a6a6a" stroke-width="0.9"/>
<line x1="79.5" y1="385.4" x2="83.7" y2="385.4" stroke="#6a6a6a" stroke-width="0.9"/>
<line x1="79.5" y1="377.0" x2="81.7" y2="377.0" stroke="#6a6a6a" stroke-width="0.9"/>
<line x1="79.5" y1="368.6" x2="81.7" y2="368.6" stroke="#6a6a6a" stroke-width="0.9"/>
<line x1="79.5" y1="360.3" x2="81.7" y2="360.3" stroke="#6a6a6a" stroke-width="0.9"/>
<line x1="79.5" y1="351.9" x2="81.7" y2="351.9" stroke="#6a6a6a" stroke-width="0.9"/>
<line x1="79.5" y1="343.5" x2="83.7" y2="343.5" stroke="#6a6a6a" stroke-width="0.9"/>
<line x1="79.5" y1="335.2" x2="81.7" y2="335.2" stroke="#6a6a6a" stroke-width="0.9"/>
<line x1="79.5" y1="326.8" x2="81.7" y2="326.8" stroke="#6a6a6a" stroke-width="0.9"/>
<line x1="79.5" y1="318.4" x2="81.7" y2="318.4" stroke="#6a6a6a" stroke-width="0.9"/>
<line x1="79.5" y1="310.1" x2="81.7" y2="310.1" stroke="#6a6a6a" stroke-width="0.9"/>
<line x1="79.5" y1="301.7" x2="83.7" y2="301.7" stroke="#6a6a6a" stroke-width="0.9"/>
<line x1="333.5" y1="402.1" x2="331.3" y2="402.1" stroke="#6a6a6a" stroke-width="0.9"/>
<line x1="333.5" y1="393.7" x2="331.3" y2="393.7" stroke="#6a6a6a" stroke-width="0.9"/>
<line x1="333.5" y1="385.4" x2="329.3" y2="385.4" stroke="#6a6a6a" stroke-width="0.9"/>
<line x1="333.5" y1="377.0" x2="331.3" y2="377.0" stroke="#6a6a6a" stroke-width="0.9"/>
<line x1="333.5" y1="368.6" x2="331.3" y2="368.6" stroke="#6a6a6a" stroke-width="0.9"/>
<line x1="333.5" y1="360.3" x2="331.3" y2="360.3" stroke="#6a6a6a" stroke-width="0.9"/>
<line x1="333.5" y1="351.9" x2="331.3" y2="351.9" stroke="#6a6a6a" stroke-width="0.9"/>
<line x1="333.5" y1="343.5" x2="329.3" y2="343.5" stroke="#6a6a6a" stroke-width="0.9"/>
<line x1="333.5" y1="335.2" x2="331.3" y2="335.2" stroke="#6a6a6a" stroke-width="0.9"/>
<line x1="333.5" y1="326.8" x2="331.3" y2="326.8" stroke="#6a6a6a" stroke-width="0.9"/>
<line x1="333.5" y1="318.4" x2="331.3" y2="318.4" stroke="#6a6a6a" stroke-width="0.9"/>
<line x1="333.5" y1="310.1" x2="331.3" y2="310.1" stroke="#6a6a6a" stroke-width="0.9"/>
<line x1="333.5" y1="301.7" x2="329.3" y2="301.7" stroke="#6a6a6a" stroke-width="0.9"/>
<line x1="79.5" y1="406.3" x2="79.5" y2="402.1" stroke="#6a6a6a" stroke-width="0.9"/>
<line x1="79.5" y1="301.7" x2="79.5" y2="305.9" stroke="#6a6a6a" stroke-width="0.9"/>
<line x1="96.4" y1="406.3" x2="96.4" y2="404.1" stroke="#6a6a6a" stroke-width="0.9"/>
<line x1="96.4" y1="301.7" x2="96.4" y2="303.9" stroke="#6a6a6a" stroke-width="0.9"/>
<line x1="113.4" y1="406.3" x2="113.4" y2="404.1" stroke="#6a6a6a" stroke-width="0.9"/>
<line x1="113.4" y1="301.7" x2="113.4" y2="303.9" stroke="#6a6a6a" stroke-width="0.9"/>
<line x1="130.3" y1="406.3" x2="130.3" y2="404.1" stroke="#6a6a6a" stroke-width="0.9"/>
<line x1="130.3" y1="301.7" x2="130.3" y2="303.9" stroke="#6a6a6a" stroke-width="0.9"/>
<line x1="147.2" y1="406.3" x2="147.2" y2="404.1" stroke="#6a6a6a" stroke-width="0.9"/>
<line x1="147.2" y1="301.7" x2="147.2" y2="303.9" stroke="#6a6a6a" stroke-width="0.9"/>
<line x1="164.2" y1="406.3" x2="164.2" y2="402.1" stroke="#6a6a6a" stroke-width="0.9"/>
<line x1="164.2" y1="301.7" x2="164.2" y2="305.9" stroke="#6a6a6a" stroke-width="0.9"/>
<line x1="181.1" y1="406.3" x2="181.1" y2="404.1" stroke="#6a6a6a" stroke-width="0.9"/>
<line x1="181.1" y1="301.7" x2="181.1" y2="303.9" stroke="#6a6a6a" stroke-width="0.9"/>
<line x1="198.0" y1="406.3" x2="198.0" y2="404.1" stroke="#6a6a6a" stroke-width="0.9"/>
<line x1="198.0" y1="301.7" x2="198.0" y2="303.9" stroke="#6a6a6a" stroke-width="0.9"/>
<line x1="215.0" y1="406.3" x2="215.0" y2="404.1" stroke="#6a6a6a" stroke-width="0.9"/>
<line x1="215.0" y1="301.7" x2="215.0" y2="303.9" stroke="#6a6a6a" stroke-width="0.9"/>
<line x1="231.9" y1="406.3" x2="231.9" y2="404.1" stroke="#6a6a6a" stroke-width="0.9"/>
<line x1="231.9" y1="301.7" x2="231.9" y2="303.9" stroke="#6a6a6a" stroke-width="0.9"/>
<line x1="248.8" y1="406.3" x2="248.8" y2="402.1" stroke="#6a6a6a" stroke-width="0.9"/>
<line x1="248.8" y1="301.7" x2="248.8" y2="305.9" stroke="#6a6a6a" stroke-width="0.9"/>
<line x1="265.8" y1="406.3" x2="265.8" y2="404.1" stroke="#6a6a6a" stroke-width="0.9"/>
<line x1="265.8" y1="301.7" x2="265.8" y2="303.9" stroke="#6a6a6a" stroke-width="0.9"/>
<line x1="282.7" y1="406.3" x2="282.7" y2="404.1" stroke="#6a6a6a" stroke-width="0.9"/>
<line x1="282.7" y1="301.7" x2="282.7" y2="303.9" stroke="#6a6a6a" stroke-width="0.9"/>
<line x1="299.6" y1="406.3" x2="299.6" y2="404.1" stroke="#6a6a6a" stroke-width="0.9"/>
<line x1="299.6" y1="301.7" x2="299.6" y2="303.9" stroke="#6a6a6a" stroke-width="0.9"/>
<line x1="316.6" y1="406.3" x2="316.6" y2="404.1" stroke="#6a6a6a" stroke-width="0.9"/>
<line x1="316.6" y1="301.7" x2="316.6" y2="303.9" stroke="#6a6a6a" stroke-width="0.9"/>
<line x1="333.5" y1="406.3" x2="333.5" y2="402.1" stroke="#6a6a6a" stroke-width="0.9"/>
<line x1="333.5" y1="301.7" x2="333.5" y2="305.9" stroke="#6a6a6a" stroke-width="0.9"/>
<text transform="translate(46.0,360.4) rotate(-90)" font-size="12" text-anchor="middle" textLength="75" lengthAdjust="spacingAndGlyphs" fill="#262626">Power density</text>
<text transform="translate(59.3,362.9) rotate(-90)" font-size="12" text-anchor="middle" textLength="47.8" lengthAdjust="spacingAndGlyphs" fill="#262626">(mW/m<tspan font-size="9" dy="-4">2</tspan><tspan dy="4">)</tspan></text>
<polyline points="79.5,313.5 80.5,314.5 81.5,315.0 82.5,315.4 83.5,315.7 84.5,316.8 85.5,317.9 86.5,319.0 87.5,320.4 88.5,321.5 89.5,322.7 90.5,322.3 91.5,320.9 92.5,318.8 93.5,320.4 94.5,321.9 95.5,323.9 96.5,322.9 97.5,322.3 98.5,320.5 99.5,321.5 100.5,322.6 101.5,323.4 102.5,323.8 103.5,323.9 104.5,323.4 105.5,324.2 106.5,323.5 107.5,323.3 108.5,325.9 109.5,327.1 110.5,326.4 111.5,324.7 112.5,326.8 113.5,328.6 114.5,330.4 115.5,329.6 116.5,329.0 117.5,329.3 118.5,328.5 119.5,330.6 120.5,331.6 121.5,334.4 122.5,336.4 123.5,337.6 124.5,337.2 125.5,336.7 126.5,336.5 127.5,335.6 128.5,335.6 129.5,336.0 130.5,336.2 131.5,337.7 132.5,337.9 133.5,336.6 134.5,335.7 135.5,335.3 136.5,335.2 137.5,335.7 138.5,335.1 139.5,334.6 140.5,334.6 141.5,336.1 142.5,338.2 143.5,339.6 144.5,340.3 145.5,340.4 146.5,340.5 147.5,339.4 148.5,338.8 149.5,337.8 150.5,338.4 151.5,339.1 152.5,340.3 153.5,341.7 154.5,343.5 155.5,342.7 156.5,342.5 157.5,341.7 158.5,341.0 159.5,341.4 160.5,342.8 161.5,343.4 162.5,343.7 163.5,344.7 164.5,345.3 165.5,345.3 166.5,344.9 167.5,344.0 168.5,344.2 169.5,344.5 170.5,344.6 171.5,345.2 172.5,345.2 173.5,345.6 174.5,346.0 175.5,347.1 176.5,346.9 177.5,347.1 178.5,348.2 179.5,348.5 180.5,348.6 181.5,349.3 182.5,348.9 183.5,350.1 184.5,351.0 185.5,352.0 186.5,352.7 187.5,353.5 188.5,354.7 189.5,355.6 190.5,354.7 191.5,353.5 192.5,352.8 193.5,353.0 194.5,354.0 195.5,353.9 196.5,354.6 197.5,354.4 198.5,355.1 199.5,356.2 200.5,356.6 201.5,357.2 202.5,357.5 203.5,357.8 204.5,358.1 205.5,357.9 206.5,356.9 207.5,356.9 208.5,357.3 209.5,358.5 210.5,358.2 211.5,358.1 212.5,357.5 213.5,355.7 214.5,357.1 215.5,358.1 216.5,359.4 217.5,358.7 218.5,357.7 219.5,357.2 220.5,358.0 221.5,358.6 222.5,358.5 223.5,359.1 224.5,359.3 225.5,359.1 226.5,359.4 227.5,359.0 228.5,359.6 229.5,359.2 230.5,358.5 231.5,359.0 232.5,359.4 233.5,360.3 234.5,360.7 235.5,361.1 236.5,361.6 237.5,362.3 238.5,363.2 239.5,363.2 240.5,362.8 241.5,363.6 242.5,364.3 243.5,364.7 244.5,365.4 245.5,365.2 246.5,365.3 247.5,363.9 248.5,364.2 249.5,363.9 250.5,364.7 251.5,364.5 252.5,365.2 253.5,365.1 254.5,365.1 255.5,365.8 256.5,366.1 257.5,367.0 258.5,366.7 259.5,367.3 260.5,367.6 261.5,368.4 262.5,367.8 263.5,368.7 264.5,368.9 265.5,369.4 266.5,370.0 267.5,369.6 268.5,370.4 269.5,370.5 270.5,370.9 271.5,370.8 272.5,371.8 273.5,372.5 274.5,372.5 275.5,373.1 276.5,374.3 277.5,374.1 278.5,374.4 279.5,374.0 280.5,374.4 281.5,374.1 282.5,373.7 283.5,373.9 284.5,373.3 285.5,373.9 286.5,373.7 287.5,373.8 288.5,373.7 289.5,373.7 290.5,374.1 291.5,374.7 292.5,375.8 293.5,376.4 294.5,377.5 295.5,378.2 296.5,378.7 297.5,379.1 298.5,379.5 299.5,379.6 300.5,378.6 301.5,377.8 302.5,377.7 303.5,377.8 304.5,379.0 305.5,379.0 306.5,379.2 307.5,379.4 308.5,379.3 309.5,379.1 310.5,379.3 311.5,379.3 312.5,379.7 313.5,379.7 314.5,379.9 315.5,379.6 316.5,380.5 317.5,380.1 318.5,380.5 319.5,380.9 320.5,381.2 321.5,381.3 322.5,380.5 323.5,381.1 324.5,381.6 325.5,382.2 326.5,382.4 327.5,383.4 328.5,383.6 329.5,384.5 330.5,385.8 331.5,386.1 332.5,385.0 333.5,383.8" fill="none" stroke="#000" stroke-width="1.5" stroke-linejoin="round" stroke-linecap="round" />
<line x1="79.5" y1="301.7" x2="333.5" y2="301.7" stroke="#6a6a6a" stroke-width="1"/>
<line x1="79.5" y1="406.3" x2="333.5" y2="406.3" stroke="#6a6a6a" stroke-width="1"/>
<line x1="79.5" y1="301.7" x2="79.5" y2="406.3" stroke="#6a6a6a" stroke-width="1"/>
<line x1="333.5" y1="301.7" x2="333.5" y2="406.3" stroke="#6a6a6a" stroke-width="1"/>
<text x="77.8" y="421.2" font-size="11.0" text-anchor="middle" fill="#262626" font-weight="normal"  >6:00</text>
<text x="78.3" y="436.4" font-size="11.0" text-anchor="middle" fill="#262626" font-weight="normal"  >PM</text>
<text x="162.6" y="421.2" font-size="11.0" text-anchor="middle" fill="#262626" font-weight="normal"  >10:00</text>
<text x="163.1" y="436.4" font-size="11.0" text-anchor="middle" fill="#262626" font-weight="normal"  >PM</text>
<text x="247.5" y="421.2" font-size="11.0" text-anchor="middle" fill="#262626" font-weight="normal"  >2:00</text>
<text x="248.0" y="436.4" font-size="11.0" text-anchor="middle" fill="#262626" font-weight="normal"  >AM</text>
<text x="332.6" y="421.2" font-size="11.0" text-anchor="middle" fill="#262626" font-weight="normal"  >6:00</text>
<text x="333.1" y="436.4" font-size="11.0" text-anchor="middle" fill="#262626" font-weight="normal"  >AM</text>
<text x="380.5" y="162.5" font-size="11.0" text-anchor="end" fill="#262626" font-weight="normal"  >0</text>
<text x="380.5" y="132.22" font-size="11.0" text-anchor="end" fill="#262626" font-weight="normal"  >10</text>
<text x="380.5" y="101.93999999999998" font-size="11.0" text-anchor="end" fill="#262626" font-weight="normal"  >20</text>
<text x="380.5" y="71.65999999999998" font-size="11.0" text-anchor="end" fill="#262626" font-weight="normal"  >30</text>
<line x1="384.5" y1="158.7" x2="388.7" y2="158.7" stroke="#6a6a6a" stroke-width="0.9"/>
<line x1="384.5" y1="152.6" x2="386.7" y2="152.6" stroke="#6a6a6a" stroke-width="0.9"/>
<line x1="384.5" y1="146.6" x2="386.7" y2="146.6" stroke="#6a6a6a" stroke-width="0.9"/>
<line x1="384.5" y1="140.5" x2="386.7" y2="140.5" stroke="#6a6a6a" stroke-width="0.9"/>
<line x1="384.5" y1="134.5" x2="386.7" y2="134.5" stroke="#6a6a6a" stroke-width="0.9"/>
<line x1="384.5" y1="128.4" x2="388.7" y2="128.4" stroke="#6a6a6a" stroke-width="0.9"/>
<line x1="384.5" y1="122.4" x2="386.7" y2="122.4" stroke="#6a6a6a" stroke-width="0.9"/>
<line x1="384.5" y1="116.3" x2="386.7" y2="116.3" stroke="#6a6a6a" stroke-width="0.9"/>
<line x1="384.5" y1="110.3" x2="386.7" y2="110.3" stroke="#6a6a6a" stroke-width="0.9"/>
<line x1="384.5" y1="104.2" x2="386.7" y2="104.2" stroke="#6a6a6a" stroke-width="0.9"/>
<line x1="384.5" y1="98.1" x2="388.7" y2="98.1" stroke="#6a6a6a" stroke-width="0.9"/>
<line x1="384.5" y1="92.1" x2="386.7" y2="92.1" stroke="#6a6a6a" stroke-width="0.9"/>
<line x1="384.5" y1="86.0" x2="386.7" y2="86.0" stroke="#6a6a6a" stroke-width="0.9"/>
<line x1="384.5" y1="80.0" x2="386.7" y2="80.0" stroke="#6a6a6a" stroke-width="0.9"/>
<line x1="384.5" y1="73.9" x2="386.7" y2="73.9" stroke="#6a6a6a" stroke-width="0.9"/>
<line x1="384.5" y1="67.9" x2="388.7" y2="67.9" stroke="#6a6a6a" stroke-width="0.9"/>
<line x1="384.5" y1="61.8" x2="386.7" y2="61.8" stroke="#6a6a6a" stroke-width="0.9"/>
<line x1="384.5" y1="55.7" x2="386.7" y2="55.7" stroke="#6a6a6a" stroke-width="0.9"/>
<line x1="632.3" y1="158.7" x2="628.0999999999999" y2="158.7" stroke="#6a6a6a" stroke-width="0.9"/>
<line x1="632.3" y1="152.6" x2="630.0999999999999" y2="152.6" stroke="#6a6a6a" stroke-width="0.9"/>
<line x1="632.3" y1="146.6" x2="630.0999999999999" y2="146.6" stroke="#6a6a6a" stroke-width="0.9"/>
<line x1="632.3" y1="140.5" x2="630.0999999999999" y2="140.5" stroke="#6a6a6a" stroke-width="0.9"/>
<line x1="632.3" y1="134.5" x2="630.0999999999999" y2="134.5" stroke="#6a6a6a" stroke-width="0.9"/>
<line x1="632.3" y1="128.4" x2="628.0999999999999" y2="128.4" stroke="#6a6a6a" stroke-width="0.9"/>
<line x1="632.3" y1="122.4" x2="630.0999999999999" y2="122.4" stroke="#6a6a6a" stroke-width="0.9"/>
<line x1="632.3" y1="116.3" x2="630.0999999999999" y2="116.3" stroke="#6a6a6a" stroke-width="0.9"/>
<line x1="632.3" y1="110.3" x2="630.0999999999999" y2="110.3" stroke="#6a6a6a" stroke-width="0.9"/>
<line x1="632.3" y1="104.2" x2="630.0999999999999" y2="104.2" stroke="#6a6a6a" stroke-width="0.9"/>
<line x1="632.3" y1="98.1" x2="628.0999999999999" y2="98.1" stroke="#6a6a6a" stroke-width="0.9"/>
<line x1="632.3" y1="92.1" x2="630.0999999999999" y2="92.1" stroke="#6a6a6a" stroke-width="0.9"/>
<line x1="632.3" y1="86.0" x2="630.0999999999999" y2="86.0" stroke="#6a6a6a" stroke-width="0.9"/>
<line x1="632.3" y1="80.0" x2="630.0999999999999" y2="80.0" stroke="#6a6a6a" stroke-width="0.9"/>
<line x1="632.3" y1="73.9" x2="630.0999999999999" y2="73.9" stroke="#6a6a6a" stroke-width="0.9"/>
<line x1="632.3" y1="67.9" x2="628.0999999999999" y2="67.9" stroke="#6a6a6a" stroke-width="0.9"/>
<line x1="632.3" y1="61.8" x2="630.0999999999999" y2="61.8" stroke="#6a6a6a" stroke-width="0.9"/>
<line x1="632.3" y1="55.7" x2="630.0999999999999" y2="55.7" stroke="#6a6a6a" stroke-width="0.9"/>
<line x1="398.6" y1="158.4" x2="398.6" y2="154.20000000000002" stroke="#6a6a6a" stroke-width="0.9"/>
<line x1="398.6" y1="53.0" x2="398.6" y2="57.2" stroke="#6a6a6a" stroke-width="0.9"/>
<line x1="417.8" y1="158.4" x2="417.8" y2="156.20000000000002" stroke="#6a6a6a" stroke-width="0.9"/>
<line x1="417.8" y1="53.0" x2="417.8" y2="55.2" stroke="#6a6a6a" stroke-width="0.9"/>
<line x1="437.0" y1="158.4" x2="437.0" y2="156.20000000000002" stroke="#6a6a6a" stroke-width="0.9"/>
<line x1="437.0" y1="53.0" x2="437.0" y2="55.2" stroke="#6a6a6a" stroke-width="0.9"/>
<line x1="456.2" y1="158.4" x2="456.2" y2="156.20000000000002" stroke="#6a6a6a" stroke-width="0.9"/>
<line x1="456.2" y1="53.0" x2="456.2" y2="55.2" stroke="#6a6a6a" stroke-width="0.9"/>
<line x1="475.4" y1="158.4" x2="475.4" y2="156.20000000000002" stroke="#6a6a6a" stroke-width="0.9"/>
<line x1="475.4" y1="53.0" x2="475.4" y2="55.2" stroke="#6a6a6a" stroke-width="0.9"/>
<line x1="494.6" y1="158.4" x2="494.6" y2="154.20000000000002" stroke="#6a6a6a" stroke-width="0.9"/>
<line x1="494.6" y1="53.0" x2="494.6" y2="57.2" stroke="#6a6a6a" stroke-width="0.9"/>
<line x1="513.8" y1="158.4" x2="513.8" y2="156.20000000000002" stroke="#6a6a6a" stroke-width="0.9"/>
<line x1="513.8" y1="53.0" x2="513.8" y2="55.2" stroke="#6a6a6a" stroke-width="0.9"/>
<line x1="533.0" y1="158.4" x2="533.0" y2="156.20000000000002" stroke="#6a6a6a" stroke-width="0.9"/>
<line x1="533.0" y1="53.0" x2="533.0" y2="55.2" stroke="#6a6a6a" stroke-width="0.9"/>
<line x1="552.2" y1="158.4" x2="552.2" y2="156.20000000000002" stroke="#6a6a6a" stroke-width="0.9"/>
<line x1="552.2" y1="53.0" x2="552.2" y2="55.2" stroke="#6a6a6a" stroke-width="0.9"/>
<line x1="571.4" y1="158.4" x2="571.4" y2="156.20000000000002" stroke="#6a6a6a" stroke-width="0.9"/>
<line x1="571.4" y1="53.0" x2="571.4" y2="55.2" stroke="#6a6a6a" stroke-width="0.9"/>
<line x1="590.6" y1="158.4" x2="590.6" y2="154.20000000000002" stroke="#6a6a6a" stroke-width="0.9"/>
<line x1="590.6" y1="53.0" x2="590.6" y2="57.2" stroke="#6a6a6a" stroke-width="0.9"/>
<line x1="609.8" y1="158.4" x2="609.8" y2="156.20000000000002" stroke="#6a6a6a" stroke-width="0.9"/>
<line x1="609.8" y1="53.0" x2="609.8" y2="55.2" stroke="#6a6a6a" stroke-width="0.9"/>
<line x1="629.0" y1="158.4" x2="629.0" y2="156.20000000000002" stroke="#6a6a6a" stroke-width="0.9"/>
<line x1="629.0" y1="53.0" x2="629.0" y2="55.2" stroke="#6a6a6a" stroke-width="0.9"/>
<polyline points="384.5,131.9 386.0,132.0 387.5,132.2 389.0,132.4 390.5,132.2 392.0,132.3 393.5,132.4 395.0,132.7 396.5,132.5 398.0,132.9 399.5,132.9 401.0,132.8 402.5,133.0 404.0,133.0 405.5,133.0 407.0,133.3 408.5,133.0 410.0,133.0 411.5,133.3 413.0,133.0 414.5,132.7 416.0,132.6 417.5,132.4 419.0,132.4 420.5,131.9 422.0,131.7 423.5,131.7 425.0,131.2 426.5,130.9 428.0,130.5 429.5,129.9 431.0,129.5 432.5,129.3 434.0,128.9 435.5,128.0 437.0,127.8 438.5,127.3 440.0,126.7 441.5,126.1 443.0,125.8 444.5,125.3 446.0,124.4 447.6,124.0 449.1,123.2 450.6,122.5 452.1,122.1 453.6,121.6 455.1,121.1 456.6,120.7 458.1,120.5 459.6,120.3 461.1,120.0 462.6,119.7 464.1,119.2 465.6,118.4 467.1,117.8 468.6,117.7 470.1,117.4 471.6,117.2 473.1,116.4 474.6,115.7 476.1,115.1 477.6,114.1 479.1,113.4 480.6,112.4 482.1,111.9 483.6,111.4 485.1,110.7 486.6,110.2 488.1,109.3 489.6,108.8 491.1,108.5 492.6,107.8 494.1,107.7 495.6,107.4 497.1,107.2 498.6,107.2 500.1,107.6 501.6,107.2 503.1,107.3 504.6,107.4 506.1,107.6 507.6,107.8 509.1,107.7 510.6,107.8 512.1,107.9 513.6,107.6 515.1,107.5 516.6,107.6 518.1,107.5 519.6,107.0 521.1,106.7 522.6,106.3 524.1,106.1 525.6,105.8 527.1,105.6 528.6,105.6 530.1,105.5 531.6,105.3 533.1,105.0 534.6,104.4 536.1,103.8 537.6,103.4 539.1,102.8 540.6,102.4 542.1,102.0 543.6,101.6 545.1,101.5 546.6,100.8 548.1,100.7 549.6,100.1 551.1,99.7 552.6,99.6 554.1,99.0 555.6,98.6 557.1,98.3 558.6,98.1 560.1,97.6 561.6,97.4 563.1,96.8 564.6,96.4 566.1,95.9 567.6,95.3 569.1,95.0 570.7,94.5 572.2,94.0 573.7,93.7 575.2,93.8 576.7,93.6 578.2,93.6 579.7,93.4 581.2,93.1 582.7,92.7 584.2,92.7 585.7,92.5 587.2,92.9 588.7,93.0 590.2,93.5 591.7,93.9 593.2,94.4 594.7,94.8 596.2,94.9 597.7,95.0 599.2,95.3 600.7,95.1 602.2,95.0 603.7,94.5 605.2,95.0 606.7,95.4 608.2,95.5 609.7,95.8 611.2,96.5 612.7,96.8 614.2,97.2 615.7,97.7 617.2,97.8 618.7,98.0 620.2,98.2 621.7,98.4 623.2,98.7 624.7,98.7 626.2,99.0 627.7,98.9 629.2,99.1 630.7,99.5 632.2,99.6" fill="none" stroke="#EDB120" stroke-width="1.6" stroke-linejoin="round" stroke-linecap="round" />
<polyline points="384.5,136.3 385.7,136.5 386.9,136.6 388.1,137.0 389.3,136.8 390.5,137.0 391.7,136.7 392.9,137.0 394.1,137.2 395.3,137.1 396.5,137.3 397.7,137.3 398.9,137.1 400.1,136.9 401.3,137.3 402.5,137.0 403.7,136.8 404.9,137.2 406.1,137.2 407.3,136.8 408.5,136.1 409.8,135.0 411.0,134.2 412.2,133.6 413.4,133.6 414.6,132.5 415.8,132.1 417.0,131.5 418.2,131.1 419.4,130.6 420.6,130.4 421.8,129.9 423.0,129.5 424.2,129.4 425.4,127.7 426.6,127.2 427.8,126.5 429.0,125.8 430.2,125.2 431.4,124.8 432.6,124.1 433.8,123.6 435.0,123.3 436.2,122.9 437.4,122.6 438.6,122.2 439.8,121.1 441.0,120.2 442.2,119.7 443.4,119.3 444.6,118.5 445.8,118.0 447.0,117.0 448.2,116.5 449.4,116.5 450.6,115.7 451.8,114.5 453.0,113.2 454.2,111.8 455.4,110.7 456.6,110.4 457.8,110.7 459.1,111.0 460.3,111.6 461.5,110.5 462.7,109.7 463.9,108.8 465.1,107.9 466.3,107.2 467.5,106.7 468.7,106.2 469.9,106.7 471.1,107.4 472.3,106.9 473.5,107.0 474.7,106.6 475.9,106.5 477.1,106.4 478.3,106.0 479.5,105.4 480.7,104.7 481.9,103.8 483.1,103.2 484.3,103.2 485.5,102.3 486.7,101.8 487.9,101.0 489.1,100.1 490.3,99.8 491.5,100.7 492.7,100.8 493.9,99.0 495.1,97.7 496.3,97.2 497.5,96.9 498.7,96.3 499.9,96.4 501.1,96.2 502.3,96.5 503.5,101.3 504.7,97.8 505.9,96.7 507.1,100.9 508.4,102.9 509.6,98.2 510.8,96.6 512.0,97.3 513.2,100.3 514.4,101.4 515.6,102.0 516.8,102.3 518.0,98.1 519.2,96.7 520.4,95.1 521.6,94.0 522.8,93.2 524.0,92.7 525.2,92.0 526.4,91.6 527.6,91.8 528.8,91.9 530.0,92.3 531.2,91.2 532.4,91.1 533.6,90.2 534.8,90.1 536.0,89.6 537.2,89.3 538.4,89.7 539.6,89.3 540.8,89.3 542.0,88.9 543.2,88.6 544.4,88.0 545.6,88.2 546.8,88.2 548.0,87.7 549.2,87.3 550.4,87.5 551.6,88.3 552.8,88.2 554.0,87.5 555.2,87.2 556.4,87.3 557.6,87.0 558.9,86.7 560.1,87.1 561.3,86.8 562.5,86.6 563.7,86.3 564.9,86.5 566.1,86.5 567.3,86.0 568.5,85.8 569.7,85.8 570.9,85.7 572.1,85.3 573.3,85.4 574.5,85.6 575.7,85.6 576.9,85.5 578.1,85.7 579.3,85.8 580.5,86.1 581.7,86.4 582.9,87.0 584.1,87.4 585.3,88.2 586.5,88.3 587.7,89.2 588.9,89.5 590.1,89.7 591.3,90.2 592.5,91.0 593.7,91.6 594.9,91.9 596.1,91.9 597.3,92.4 598.5,92.8 599.7,92.9 600.9,93.1 602.1,93.7 603.3,93.4 604.5,94.0 605.7,94.2 606.9,94.5 608.2,95.3 609.4,95.7 610.6,96.6 611.8,96.8 613.0,97.1 614.2,98.0 615.4,98.3 616.6,98.6 617.8,98.9 619.0,99.0 620.2,99.9 621.4,99.8 622.6,100.3 623.8,100.6 625.0,101.0 626.2,101.1 627.4,102.0 628.6,102.2 629.8,102.5 631.0,103.2 632.2,103.6" fill="none" stroke="#D95319" stroke-width="1.6" stroke-linejoin="round" stroke-linecap="round" />
<polyline points="384.5,152.5 385.5,152.7 386.5,152.9 387.5,152.7 388.5,153.0 389.5,152.9 390.5,152.8 391.5,152.1 392.5,152.2 393.5,152.1 394.5,152.0 395.5,152.3 396.5,152.0 397.5,152.0 398.5,152.3 399.5,152.1 400.5,151.9 401.5,151.9 402.6,151.8 403.6,151.2 404.6,151.2 405.6,150.9 406.6,149.9 407.6,149.1 408.6,148.2 409.6,146.6 410.6,145.3 411.6,143.8 412.6,143.1 413.6,143.0 414.6,142.2 415.6,141.8 416.6,141.9 417.6,141.3 418.6,140.4 419.6,140.0 420.6,139.5 421.6,139.2 422.6,138.6 423.6,138.6 424.6,137.9 425.6,137.2 426.6,136.4 427.6,135.6 428.6,134.9 429.6,134.7 430.6,133.2 431.6,131.7 432.6,130.2 433.6,129.2 434.6,128.2 435.6,127.8 436.6,128.0 437.7,128.4 438.7,128.7 439.7,129.0 440.7,129.6 441.7,129.5 442.7,128.5 443.7,127.4 444.7,126.5 445.7,125.5 446.7,124.0 447.7,124.0 448.7,125.0 449.7,125.5 450.7,124.0 451.7,121.8 452.7,120.6 453.7,118.3 454.7,116.0 455.7,115.1 456.7,114.8 457.7,115.0 458.7,115.4 459.7,115.6 460.7,115.9 461.7,115.1 462.7,113.9 463.7,113.2 464.7,112.7 465.7,112.1 466.7,111.3 467.7,110.8 468.7,110.4 469.7,110.3 470.7,110.9 471.7,113.2 472.7,113.7 473.8,113.7 474.8,113.7 475.8,113.4 476.8,112.6 477.8,111.1 478.8,108.3 479.8,107.6 480.8,106.5 481.8,106.5 482.8,107.0 483.8,108.3 484.8,109.8 485.8,109.4 486.8,108.5 487.8,108.0 488.8,107.3 489.8,106.5 490.8,105.8 491.8,105.0 492.8,104.5 493.8,104.6 494.8,104.3 495.8,104.7 496.8,104.7 497.8,103.8 498.8,103.6 499.8,103.6 500.8,103.5 501.8,103.5 502.8,104.6 503.8,107.6 504.8,106.8 505.8,108.2 506.8,110.0 507.8,112.0 508.9,109.9 509.9,105.8 510.9,101.7 511.9,103.0 512.9,106.5 513.9,109.3 514.9,110.0 515.9,110.4 516.9,109.5 517.9,107.0 518.9,105.7 519.9,104.0 520.9,101.5 521.9,98.7 522.9,96.7 523.9,95.6 524.9,95.4 525.9,96.5 526.9,98.2 527.9,100.0 528.9,101.9 529.9,103.1 530.9,100.4 531.9,99.2 532.9,99.5 533.9,100.8 534.9,102.5 535.9,102.6 536.9,102.0 537.9,100.9 538.9,99.5 539.9,97.9 540.9,96.0 541.9,96.0 542.9,96.1 544.0,95.6 545.0,95.2 546.0,94.3 547.0,93.7 548.0,91.7 549.0,90.8 550.0,92.0 551.0,94.6 552.0,98.1 553.0,100.1 554.0,96.7 555.0,92.1 556.0,89.4 557.0,88.4 558.0,87.9 559.0,86.8 560.0,87.2 561.0,87.8 562.0,88.4 563.0,89.3 564.0,89.5 565.0,89.9 566.0,90.2 567.0,90.3 568.0,89.2 569.0,87.9 570.0,87.7 571.0,88.1 572.0,88.5 573.0,86.5 574.0,85.3 575.0,83.5 576.0,82.4 577.0,82.1 578.0,83.5 579.0,84.2 580.1,82.4 581.1,81.2 582.1,80.2 583.1,81.2 584.1,81.6 585.1,82.2 586.1,83.1 587.1,83.4 588.1,83.4 589.1,82.6 590.1,82.9 591.1,83.1 592.1,83.1 593.1,85.9 594.1,90.0 595.1,88.0 596.1,85.0 597.1,83.9 598.1,84.9 599.1,87.6 600.1,90.2 601.1,87.7 602.1,85.8 603.1,85.1 604.1,84.7 605.1,84.5 606.1,85.1 607.1,85.8 608.1,87.7 609.1,89.5 610.1,90.1 611.1,90.3 612.1,90.7 613.1,91.1 614.1,91.3 615.2,91.3 616.2,91.5 617.2,92.7 618.2,93.4 619.2,95.0 620.2,96.7 621.2,96.4 622.2,95.7 623.2,95.4 624.2,95.7 625.2,95.5 626.2,95.7 627.2,95.1 628.2,94.7 629.2,94.2 630.2,93.9 631.2,93.8 632.2,93.9" fill="none" stroke="#7E2F8E" stroke-width="1.6" stroke-linejoin="round" stroke-linecap="round" />
<polyline points="384.5,139.3 385.5,139.4 386.5,139.5 387.5,139.6 388.5,139.6 389.5,139.4 390.5,139.7 391.5,139.5 392.5,139.5 393.5,139.4 394.5,139.6 395.5,139.3 396.5,139.4 397.5,139.5 398.5,139.6 399.5,139.5 400.5,139.1 401.5,139.1 402.6,139.1 403.6,139.2 404.6,139.3 405.6,139.2 406.6,139.2 407.6,138.4 408.6,137.7 409.6,136.7 410.6,135.9 411.6,135.0 412.6,134.3 413.6,133.5 414.6,132.8 415.6,132.0 416.6,131.2 417.6,130.3 418.6,129.7 419.6,128.7 420.6,127.9 421.6,127.0 422.6,125.9 423.6,124.9 424.6,123.8 425.6,122.5 426.6,121.3 427.6,120.2 428.6,119.4 429.6,118.3 430.6,117.6 431.6,116.3 432.6,115.8 433.6,115.1 434.6,114.0 435.6,113.1 436.6,112.2 437.7,111.4 438.7,110.6 439.7,109.9 440.7,109.0 441.7,108.3 442.7,107.5 443.7,106.9 444.7,106.1 445.7,105.4 446.7,105.2 447.7,104.3 448.7,103.8 449.7,103.5 450.7,102.8 451.7,101.7 452.7,100.3 453.7,99.1 454.7,97.5 455.7,97.0 456.7,96.1 457.7,95.3 458.7,95.7 459.7,95.8 460.7,95.4 461.7,94.5 462.7,93.5 463.7,92.9 464.7,91.8 465.7,90.7 466.7,90.2 467.7,89.4 468.7,88.9 469.7,88.5 470.7,88.2 471.7,87.7 472.7,87.0 473.8,86.6 474.8,85.9 475.8,85.4 476.8,84.7 477.8,83.4 478.8,83.0 479.8,82.2 480.8,81.0 481.8,80.4 482.8,79.7 483.8,78.6 484.8,78.3 485.8,77.8 486.8,77.4 487.8,76.6 488.8,76.4 489.8,75.9 490.8,75.4 491.8,75.2 492.8,75.6 493.8,75.7 494.8,75.0 495.8,73.9 496.8,72.8 497.8,72.5 498.8,72.1 499.8,71.6 500.8,71.1 501.8,70.9 502.8,70.8 503.8,74.3 504.8,75.7 505.8,75.1 506.8,77.3 507.8,79.6 508.9,79.3 509.9,74.9 510.9,73.0 511.9,72.8 512.9,76.1 513.9,79.2 514.9,79.7 515.9,80.5 516.9,80.4 517.9,78.1 518.9,75.8 519.9,73.4 520.9,71.4 521.9,69.2 522.9,67.4 523.9,66.6 524.9,65.3 525.9,64.4 526.9,64.5 527.9,64.9 528.9,65.0 529.9,64.6 530.9,64.3 531.9,63.5 532.9,63.2 533.9,62.9 534.9,62.6 535.9,62.1 536.9,62.0 537.9,61.7 538.9,61.6 539.9,61.1 540.9,60.8 541.9,60.5 542.9,60.6 544.0,60.3 545.0,60.3 546.0,60.2 547.0,59.8 548.0,59.8 549.0,59.7 550.0,60.6 551.0,61.1 552.0,60.5 553.0,59.6 554.0,59.3 555.0,59.3 556.0,59.1 557.0,58.7 558.0,58.6 559.0,59.2 560.0,59.2 561.0,59.5 562.0,59.5 563.0,59.7 564.0,59.6 565.0,59.5 566.0,59.7 567.0,59.5 568.0,59.3 569.0,59.2 570.0,59.6 571.0,59.7 572.0,59.6 573.0,60.1 574.0,60.1 575.0,60.8 576.0,60.8 577.0,61.3 578.0,61.6 579.0,62.2 580.1,62.3 581.1,62.6 582.1,63.3 583.1,63.8 584.1,64.3 585.1,65.2 586.1,65.9 587.1,66.5 588.1,67.1 589.1,67.5 590.1,68.1 591.1,68.6 592.1,69.8 593.1,70.4 594.1,71.3 595.1,72.5 596.1,72.4 597.1,72.9 598.1,72.9 599.1,73.4 600.1,74.4 601.1,74.9 602.1,75.2 603.1,75.9 604.1,76.5 605.1,76.9 606.1,77.6 607.1,78.6 608.1,79.0 609.1,79.9 610.1,80.6 611.1,81.6 612.1,82.4 613.1,82.9 614.1,83.4 615.2,84.1 616.2,85.1 617.2,85.8 618.2,86.6 619.2,87.0 620.2,88.2 621.2,88.8 622.2,89.5 623.2,90.4 624.2,90.8 625.2,91.8 626.2,92.4 627.2,93.1 628.2,94.1 629.2,94.4 630.2,95.4 631.2,95.8 632.2,96.8" fill="none" stroke="#0072BD" stroke-width="1.6" stroke-linejoin="round" stroke-linecap="round" />
<line x1="549.4" y1="87" x2="549.4" y2="178.8" stroke="#8a8a8a" stroke-width="1"/>
<line x1="549.4" y1="62.5" x2="549.4" y2="84.5" stroke="#ee2020" stroke-width="1.1"/>
<path d="M547.9,64.2 L549.4,60.2 L550.9,64.2 Z" fill="#ee2020"/>
<path d="M547.9,82.6 L549.4,86.6 L550.9,82.6 Z" fill="#ee2020"/>
<text x="554.9" y="77.0" font-size="9.4" text-anchor="start" fill="#ee2020" font-weight="normal" textLength="17.9" lengthAdjust="spacingAndGlyphs" >9.43</text>
<text x="573.0" y="77.0" font-size="9.4" text-anchor="start" fill="#ee2020" font-weight="normal" textLength="9.0" lengthAdjust="spacingAndGlyphs" >°C</text>
<path d="M414.9,104.8 L419.0,102.2 L414.9,99.6 Z" fill="#f5a623"/>
<path d="M409.8,112.0 L414.5,113.0 L413.5,108.3 Z" fill="#f5a623"/>
<path d="M401.1,113.4 L403.7,117.5 L406.3,113.4 Z" fill="#f5a623"/>
<path d="M393.9,108.3 L392.9,113.0 L397.6,112.0 Z" fill="#f5a623"/>
<path d="M392.5,99.6 L388.4,102.2 L392.5,104.8 Z" fill="#f5a623"/>
<path d="M397.6,92.4 L392.9,91.4 L393.9,96.1 Z" fill="#f5a623"/>
<path d="M406.3,91.0 L403.7,86.9 L401.1,91.0 Z" fill="#f5a623"/>
<path d="M413.5,96.1 L414.5,91.4 L409.8,92.4 Z" fill="#f5a623"/>
<circle cx="403.7" cy="102.2" r="9.4" fill="url(#sun)"/>
<rect x="405.4" y="124.3" width="14" height="20.7" fill="none" stroke="#ee2020" stroke-width="1.4" stroke-dasharray="5 3.5"/>
<text x="424.2" y="148.7" font-size="12.4" text-anchor="start" fill="#111" font-weight="normal" textLength="20.6" lengthAdjust="spacingAndGlyphs" >Flip</text>
<line x1="506.8" y1="123.3" x2="532" y2="123.3" stroke="#0072BD" stroke-width="1.6"/>
<text x="534.4" y="124.6" font-size="12.2" text-anchor="start" fill="#262626" font-weight="normal"  >T</text>
<text x="541.0" y="130.5" font-size="9.3" text-anchor="start" fill="#262626" font-weight="normal"  >Top</text>
<line x1="574.5" y1="123.3" x2="599.5" y2="123.3" stroke="#EDB120" stroke-width="1.6"/>
<text x="601.9" y="124.6" font-size="12.2" text-anchor="start" fill="#262626" font-weight="normal"  >T</text>
<text x="608.5" y="130.5" font-size="9.3" text-anchor="start" fill="#262626" font-weight="normal"  >Soil</text>
<line x1="506.8" y1="141.9" x2="532" y2="141.9" stroke="#D95319" stroke-width="1.6"/>
<text x="534.4" y="143.20000000000002" font-size="12.2" text-anchor="start" fill="#262626" font-weight="normal"  >T</text>
<text x="541.0" y="149.1" font-size="9.3" text-anchor="start" fill="#262626" font-weight="normal"  >Bottom</text>
<line x1="574.5" y1="141.9" x2="599.5" y2="141.9" stroke="#7E2F8E" stroke-width="1.6"/>
<text x="601.9" y="143.20000000000002" font-size="12.2" text-anchor="start" fill="#262626" font-weight="normal"  >T</text>
<text x="608.5" y="149.1" font-size="9.3" text-anchor="start" fill="#262626" font-weight="normal"  >Air</text>
<line x1="384.5" y1="53.0" x2="632.3" y2="53.0" stroke="#6a6a6a" stroke-width="1"/>
<line x1="384.5" y1="158.4" x2="632.3" y2="158.4" stroke="#6a6a6a" stroke-width="1"/>
<line x1="384.5" y1="53.0" x2="384.5" y2="158.4" stroke="#6a6a6a" stroke-width="1"/>
<line x1="632.3" y1="53.0" x2="632.3" y2="158.4" stroke="#6a6a6a" stroke-width="1"/>
<text x="381" y="287.017" font-size="11.0" text-anchor="end" fill="#262626" font-weight="normal"  >-10</text>
<text x="381" y="274.0" font-size="11.0" text-anchor="end" fill="#262626" font-weight="normal"  >0</text>
<text x="381" y="247.966" font-size="11.0" text-anchor="end" fill="#262626" font-weight="normal"  >20</text>
<text x="381" y="221.932" font-size="11.0" text-anchor="end" fill="#262626" font-weight="normal"  >40</text>
<text x="381" y="195.898" font-size="11.0" text-anchor="end" fill="#262626" font-weight="normal"  >60</text>
<text x="637.5" y="269.0833333333333" font-size="11.0" text-anchor="start" fill="#262626" font-weight="normal"  >0</text>
<text x="637.5" y="226.04166666666666" font-size="11.0" text-anchor="start" fill="#262626" font-weight="normal"  >5</text>
<text x="637.5" y="183.0" font-size="11.0" text-anchor="start" fill="#262626" font-weight="normal"  >10</text>
<line x1="385.5" y1="283.2" x2="387.7" y2="283.2" stroke="#6a6a6a" stroke-width="0.9"/>
<line x1="385.5" y1="276.7" x2="387.7" y2="276.7" stroke="#6a6a6a" stroke-width="0.9"/>
<line x1="385.5" y1="270.2" x2="389.7" y2="270.2" stroke="#6a6a6a" stroke-width="0.9"/>
<line x1="385.5" y1="263.7" x2="387.7" y2="263.7" stroke="#6a6a6a" stroke-width="0.9"/>
<line x1="385.5" y1="257.2" x2="387.7" y2="257.2" stroke="#6a6a6a" stroke-width="0.9"/>
<line x1="385.5" y1="250.7" x2="387.7" y2="250.7" stroke="#6a6a6a" stroke-width="0.9"/>
<line x1="385.5" y1="244.2" x2="389.7" y2="244.2" stroke="#6a6a6a" stroke-width="0.9"/>
<line x1="385.5" y1="237.7" x2="387.7" y2="237.7" stroke="#6a6a6a" stroke-width="0.9"/>
<line x1="385.5" y1="231.1" x2="387.7" y2="231.1" stroke="#6a6a6a" stroke-width="0.9"/>
<line x1="385.5" y1="224.6" x2="387.7" y2="224.6" stroke="#6a6a6a" stroke-width="0.9"/>
<line x1="385.5" y1="218.1" x2="389.7" y2="218.1" stroke="#6a6a6a" stroke-width="0.9"/>
<line x1="385.5" y1="211.6" x2="387.7" y2="211.6" stroke="#6a6a6a" stroke-width="0.9"/>
<line x1="385.5" y1="205.1" x2="387.7" y2="205.1" stroke="#6a6a6a" stroke-width="0.9"/>
<line x1="385.5" y1="198.6" x2="387.7" y2="198.6" stroke="#6a6a6a" stroke-width="0.9"/>
<line x1="385.5" y1="192.1" x2="389.7" y2="192.1" stroke="#6a6a6a" stroke-width="0.9"/>
<line x1="385.5" y1="185.6" x2="387.7" y2="185.6" stroke="#6a6a6a" stroke-width="0.9"/>
<line x1="385.5" y1="179.1" x2="387.7" y2="179.1" stroke="#6a6a6a" stroke-width="0.9"/>
<line x1="633.2" y1="282.5" x2="631.9000000000001" y2="282.5" stroke="#6a6a6a" stroke-width="0.9"/>
<line x1="633.2" y1="273.9" x2="631.9000000000001" y2="273.9" stroke="#6a6a6a" stroke-width="0.9"/>
<line x1="633.2" y1="265.3" x2="631.2" y2="265.3" stroke="#6a6a6a" stroke-width="0.9"/>
<line x1="633.2" y1="256.7" x2="631.9000000000001" y2="256.7" stroke="#6a6a6a" stroke-width="0.9"/>
<line x1="633.2" y1="248.1" x2="631.9000000000001" y2="248.1" stroke="#6a6a6a" stroke-width="0.9"/>
<line x1="633.2" y1="239.5" x2="631.9000000000001" y2="239.5" stroke="#6a6a6a" stroke-width="0.9"/>
<line x1="633.2" y1="230.8" x2="631.9000000000001" y2="230.8" stroke="#6a6a6a" stroke-width="0.9"/>
<line x1="633.2" y1="222.2" x2="631.2" y2="222.2" stroke="#6a6a6a" stroke-width="0.9"/>
<line x1="633.2" y1="213.6" x2="631.9000000000001" y2="213.6" stroke="#6a6a6a" stroke-width="0.9"/>
<line x1="633.2" y1="205.0" x2="631.9000000000001" y2="205.0" stroke="#6a6a6a" stroke-width="0.9"/>
<line x1="633.2" y1="196.4" x2="631.9000000000001" y2="196.4" stroke="#6a6a6a" stroke-width="0.9"/>
<line x1="633.2" y1="187.8" x2="631.9000000000001" y2="187.8" stroke="#6a6a6a" stroke-width="0.9"/>
<line x1="633.2" y1="179.2" x2="631.2" y2="179.2" stroke="#6a6a6a" stroke-width="0.9"/>
<line x1="399.4" y1="282.5" x2="399.4" y2="278.3" stroke="#6a6a6a" stroke-width="0.9"/>
<line x1="399.4" y1="179.2" x2="399.4" y2="183.39999999999998" stroke="#6a6a6a" stroke-width="0.9"/>
<line x1="418.6" y1="282.5" x2="418.6" y2="280.3" stroke="#6a6a6a" stroke-width="0.9"/>
<line x1="418.6" y1="179.2" x2="418.6" y2="181.39999999999998" stroke="#6a6a6a" stroke-width="0.9"/>
<line x1="437.9" y1="282.5" x2="437.9" y2="280.3" stroke="#6a6a6a" stroke-width="0.9"/>
<line x1="437.9" y1="179.2" x2="437.9" y2="181.39999999999998" stroke="#6a6a6a" stroke-width="0.9"/>
<line x1="457.1" y1="282.5" x2="457.1" y2="280.3" stroke="#6a6a6a" stroke-width="0.9"/>
<line x1="457.1" y1="179.2" x2="457.1" y2="181.39999999999998" stroke="#6a6a6a" stroke-width="0.9"/>
<line x1="476.4" y1="282.5" x2="476.4" y2="280.3" stroke="#6a6a6a" stroke-width="0.9"/>
<line x1="476.4" y1="179.2" x2="476.4" y2="181.39999999999998" stroke="#6a6a6a" stroke-width="0.9"/>
<line x1="495.6" y1="282.5" x2="495.6" y2="278.3" stroke="#6a6a6a" stroke-width="0.9"/>
<line x1="495.6" y1="179.2" x2="495.6" y2="183.39999999999998" stroke="#6a6a6a" stroke-width="0.9"/>
<line x1="514.9" y1="282.5" x2="514.9" y2="280.3" stroke="#6a6a6a" stroke-width="0.9"/>
<line x1="514.9" y1="179.2" x2="514.9" y2="181.39999999999998" stroke="#6a6a6a" stroke-width="0.9"/>
<line x1="534.1" y1="282.5" x2="534.1" y2="280.3" stroke="#6a6a6a" stroke-width="0.9"/>
<line x1="534.1" y1="179.2" x2="534.1" y2="181.39999999999998" stroke="#6a6a6a" stroke-width="0.9"/>
<line x1="553.4" y1="282.5" x2="553.4" y2="280.3" stroke="#6a6a6a" stroke-width="0.9"/>
<line x1="553.4" y1="179.2" x2="553.4" y2="181.39999999999998" stroke="#6a6a6a" stroke-width="0.9"/>
<line x1="572.6" y1="282.5" x2="572.6" y2="280.3" stroke="#6a6a6a" stroke-width="0.9"/>
<line x1="572.6" y1="179.2" x2="572.6" y2="181.39999999999998" stroke="#6a6a6a" stroke-width="0.9"/>
<line x1="591.9" y1="282.5" x2="591.9" y2="278.3" stroke="#6a6a6a" stroke-width="0.9"/>
<line x1="591.9" y1="179.2" x2="591.9" y2="183.39999999999998" stroke="#6a6a6a" stroke-width="0.9"/>
<line x1="611.1" y1="282.5" x2="611.1" y2="280.3" stroke="#6a6a6a" stroke-width="0.9"/>
<line x1="611.1" y1="179.2" x2="611.1" y2="181.39999999999998" stroke="#6a6a6a" stroke-width="0.9"/>
<line x1="630.4" y1="282.5" x2="630.4" y2="280.3" stroke="#6a6a6a" stroke-width="0.9"/>
<line x1="630.4" y1="179.2" x2="630.4" y2="181.39999999999998" stroke="#6a6a6a" stroke-width="0.9"/>
<text transform="translate(657.0,229.9) rotate(-90)" font-size="12" text-anchor="middle" textLength="36.2" lengthAdjust="spacingAndGlyphs" fill="#262626">ΔT (°C)</text>
<polyline points="385.5,281.7 386.1,281.5 386.7,281.4 387.3,281.6 387.9,281.3 388.5,281.2 389.1,281.0 389.7,280.8 390.3,280.9 390.9,280.7 391.5,280.7 392.1,280.6 392.7,280.6 393.3,280.3 393.9,280.0 394.5,279.9 395.1,280.1 395.7,279.8 396.3,279.9 396.9,279.8 397.5,279.5 398.1,279.7 398.7,279.3 399.3,279.6 399.9,279.5 400.5,279.1 401.1,279.3 401.7,279.1 402.3,278.7 402.9,278.9 403.5,278.5 404.1,278.8 404.7,278.5 405.3,278.6 405.9,277.7 406.5,277.4 407.1,277.2 407.7,276.8 408.3,276.1 408.9,275.4 409.5,273.9 410.1,272.0 410.8,269.4 411.4,267.2 412.0,265.8 412.6,265.0 413.2,264.0 413.8,263.1 414.4,262.0 415.0,261.7 415.6,261.7 416.2,261.8 416.8,261.5 417.4,261.6 418.0,261.1 418.6,260.6 419.2,259.8 419.8,258.9 420.4,258.1 421.0,257.3 421.6,256.5 422.2,256.1 422.8,255.3 423.4,254.5 424.0,253.4 424.6,253.0 425.2,252.1 425.8,251.8 426.4,251.0 427.0,250.4 427.6,249.6 428.2,248.9 428.8,248.6 429.4,248.1 430.0,247.2 430.6,246.7 431.2,246.4 431.8,245.8 432.4,245.1 433.0,244.6 433.6,244.3 434.2,243.4 434.8,242.8 435.4,242.5 436.0,241.8 436.6,241.6 437.2,240.7 437.8,240.5 438.4,239.6 439.0,239.2 439.6,238.5 440.2,237.8 440.8,236.9 441.4,236.3 442.0,235.6 442.6,235.0 443.2,234.6 443.8,233.7 444.4,233.3 445.0,233.0 445.6,232.3 446.2,231.9 446.8,231.4 447.4,231.3 448.0,230.7 448.6,230.8 449.2,230.3 449.8,230.1 450.4,229.7 451.0,229.3 451.6,229.2 452.2,228.8 452.8,228.4 453.4,227.7 454.0,227.6 454.6,227.4 455.2,226.9 455.8,226.4 456.4,225.8 457.0,224.9 457.6,224.5 458.2,223.8 458.8,222.7 459.4,223.2 460.1,226.3 460.7,226.6 461.3,223.4 461.9,221.8 462.5,221.3 463.1,220.5 463.7,219.9 464.3,219.8 464.9,219.2 465.5,218.9 466.1,218.7 466.7,218.1 467.3,217.9 467.9,217.5 468.5,217.5 469.1,217.8 469.7,217.9 470.3,218.3 470.9,218.3 471.5,217.6 472.1,217.1 472.7,216.7 473.3,216.0 473.9,215.7 474.5,215.7 475.1,215.4 475.7,214.8 476.3,215.0 476.9,214.8 477.5,214.5 478.1,213.7 478.7,213.6 479.3,212.8 479.9,212.6 480.5,211.9 481.1,211.5 481.7,211.1 482.3,211.1 482.9,210.5 483.5,210.5 484.1,210.1 484.7,209.6 485.3,209.5 485.9,209.2 486.5,208.6 487.1,208.7 487.7,208.1 488.3,207.7 488.9,207.8 489.5,207.5 490.1,207.0 490.7,206.6 491.3,206.5 491.9,206.2 492.5,212.1 493.1,223.5 493.7,218.8 494.3,207.1 494.9,204.7 495.5,204.1 496.1,203.6 496.7,203.4 497.3,203.5 497.9,203.6 498.5,203.4 499.1,203.7 499.7,203.2 500.3,203.0 500.9,202.5 501.5,202.5 502.1,203.1 502.7,204.0 503.3,225.2 503.9,248.6 504.5,228.1 505.1,203.5 505.7,199.7 506.3,199.8 506.9,204.5 507.5,221.1 508.1,238.1 508.7,255.0 509.4,240.5 510.0,222.3 510.6,204.6 511.2,197.4 511.8,195.6 512.4,198.7 513.0,202.4 513.6,228.6 514.2,246.1 514.8,220.5 515.4,205.3 516.0,205.3 516.6,212.2 517.2,233.5 517.8,236.2 518.4,214.5 519.0,204.3 519.6,201.7 520.2,199.9 520.8,198.8 521.4,197.7 522.0,196.5 522.6,195.0 523.2,193.5 523.8,193.2 524.4,193.2 525.0,193.2 525.6,193.5 526.2,193.9 526.8,193.9 527.4,194.5 528.0,195.0 528.6,195.6 529.2,196.2 529.8,197.2 530.4,197.5 531.0,197.7 531.6,198.3 532.2,198.3 532.8,198.4 533.4,199.1 534.0,199.4 534.6,199.3 535.2,199.7 535.8,199.8 536.4,199.9 537.0,199.6 537.6,199.9 538.2,199.7 538.8,200.0 539.4,199.8 540.0,200.0 540.6,199.8 541.2,200.0 541.8,199.9 542.4,200.1 543.0,200.3 543.6,200.5 544.2,200.5 544.8,200.8 545.4,200.8 546.0,201.2 546.6,201.5 547.2,201.6 547.8,201.6 548.4,202.0 549.0,202.0 549.6,202.1 550.2,202.2 550.8,202.1 551.4,203.1 552.0,204.0 552.6,204.9 553.2,205.7 553.8,206.5 554.4,206.5 555.0,206.5 555.6,206.4 556.2,206.1 556.8,206.5 557.4,206.3 558.0,206.3 558.6,206.3 559.3,206.4 559.9,206.7 560.5,207.4 561.1,207.8 561.7,207.9 562.3,208.7 562.9,209.1 563.5,209.5 564.1,209.8 564.7,210.1 565.3,210.5 565.9,210.9 566.5,211.6 567.1,212.0 567.7,212.3 568.3,212.6 568.9,213.0 569.5,213.4 570.1,213.6 570.7,214.0 571.3,214.8 571.9,214.8 572.5,215.2 573.1,215.7 573.7,215.9 574.3,216.6 574.9,216.8 575.5,217.7 576.1,217.8 576.7,218.6 577.3,218.9 577.9,219.6 578.5,220.1 579.1,220.7 579.7,220.8 580.3,221.7 580.9,221.8 581.5,222.4 582.1,222.7 582.7,223.4 583.3,223.7 583.9,224.5 584.5,225.2 585.1,225.6 585.7,226.0 586.3,226.2 586.9,227.2 587.5,227.4 588.1,228.2 588.7,228.3 589.3,228.9 589.9,229.7 590.5,230.1 591.1,230.5 591.7,231.2 592.3,231.9 592.9,232.3 593.5,232.9 594.1,233.5 594.7,234.3 595.3,234.8 595.9,235.4 596.5,236.1 597.1,236.6 597.7,237.3 598.3,238.0 598.9,238.3 599.5,238.8 600.1,239.5 600.7,240.0 601.3,240.6 601.9,241.3 602.5,241.9 603.1,242.4 603.7,243.1 604.3,243.4 604.9,244.1 605.5,244.6 606.1,245.3 606.7,246.0 607.3,246.6 607.9,247.3 608.6,248.2 609.2,248.6 609.8,249.5 610.4,249.9 611.0,250.7 611.6,251.2 612.2,251.8 612.8,252.6 613.4,253.0 614.0,253.6 614.6,254.0 615.2,254.6 615.8,255.3 616.4,255.9 617.0,256.4 617.6,257.4 618.2,257.5 618.8,258.3 619.4,258.7 620.0,259.3 620.6,260.0 621.2,260.6 621.8,260.8 622.4,261.5 623.0,262.0 623.6,262.2 624.2,262.8 624.8,263.3 625.4,264.0 626.0,264.2 626.6,265.0 627.2,265.3 627.8,266.3 628.4,267.0 629.0,267.5 629.6,268.3 630.2,269.3 630.8,269.8 631.4,270.4 632.0,271.3 632.6,272.1 633.2,272.8" fill="none" stroke="#2e8fd6" stroke-width="1.5" stroke-linejoin="round" stroke-linecap="round" stroke-dasharray="5 1 2.5 1"/>
<polyline points="385.5,281.7 386.1,281.5 386.7,281.4 387.3,281.6 387.9,281.3 388.5,281.2 389.1,281.0 389.7,280.8 390.3,280.9 390.9,280.7 391.5,280.7 392.1,280.6 392.7,280.6 393.3,280.3 393.9,280.0 394.5,279.9 395.1,280.1 395.7,279.8 396.3,279.9 396.9,279.8 397.5,279.5 398.1,279.7 398.7,279.3 399.3,279.6 399.9,279.5 400.5,279.1 401.1,279.3 401.7,279.1 402.3,278.7 402.9,278.9 403.5,278.5 404.1,278.8 404.7,278.5 405.3,278.6 405.9,277.7 406.5,277.4 407.1,277.2 407.7,276.8 408.3,276.1 408.9,275.4 409.5,273.9 410.1,272.0 410.8,269.4 411.4,267.2 412.0,265.8 412.6,265.0 413.2,264.0 413.8,263.1 414.4,262.0 415.0,261.7 415.6,261.7 416.2,261.8 416.8,261.5 417.4,261.6 418.0,261.1 418.6,260.6 419.2,259.8 419.8,258.9 420.4,258.1 421.0,257.3 421.6,256.5 422.2,256.1 422.8,255.3 423.4,254.5 424.0,253.4 424.6,253.0 425.2,252.1 425.8,251.8 426.4,251.0 427.0,250.4 427.6,249.6 428.2,248.9 428.8,248.6 429.4,248.1 430.0,247.2 430.6,246.7 431.2,246.4 431.8,245.8 432.4,245.1 433.0,244.6 433.6,244.3 434.2,243.4 434.8,242.8 435.4,242.5 436.0,241.8 436.6,241.6 437.2,240.7 437.8,240.5 438.4,239.6 439.0,239.2 439.6,238.5 440.2,237.8 440.8,236.9 441.4,236.3 442.0,235.6 442.6,235.0 443.2,234.6 443.8,233.7 444.4,233.3 445.0,233.0 445.6,232.3 446.2,231.9 446.8,231.4 447.4,231.3 448.0,230.7 448.6,230.8 449.2,230.3 449.8,230.1 450.4,229.7 451.0,229.3 451.6,229.2 452.2,228.8 452.8,228.4 453.4,227.7 454.0,227.6 454.6,227.4 455.2,226.9 455.8,226.4 456.4,225.8 457.0,224.9 457.6,224.5 458.2,223.8 458.8,222.7 459.4,223.2 460.1,226.3 460.7,226.6 461.3,223.4 461.9,221.8 462.5,221.3 463.1,220.5 463.7,219.9 464.3,219.8 464.9,219.2 465.5,218.9 466.1,218.7 466.7,218.1 467.3,217.9 467.9,217.5 468.5,217.5 469.1,217.8 469.7,217.9 470.3,218.3 470.9,218.3 471.5,217.6 472.1,217.1 472.7,216.7 473.3,216.0 473.9,215.7 474.5,215.7 475.1,215.4 475.7,214.8 476.3,215.0 476.9,214.8 477.5,214.5 478.1,213.7 478.7,213.6 479.3,212.8 479.9,212.6 480.5,211.9 481.1,211.5 481.7,211.1 482.3,211.1 482.9,210.5 483.5,210.5 484.1,210.1 484.7,209.6 485.3,209.5 485.9,209.2 486.5,208.6 487.1,208.7 487.7,208.1 488.3,207.7 488.9,207.8 489.5,207.5 490.1,207.0 490.7,206.6 491.3,206.5 491.9,206.2 492.5,212.1 493.1,223.5 493.7,218.8 494.3,207.1 494.9,204.7 495.5,204.1 496.1,203.6 496.7,203.4 497.3,203.5 497.9,203.6 498.5,203.4 499.1,203.7 499.7,203.2 500.3,203.0 500.9,202.5 501.5,202.5 502.1,203.1 502.7,204.0 503.3,225.2 503.9,248.6 504.5,228.1 505.1,203.5 505.7,199.7 506.3,199.8 506.9,204.5 507.5,221.1 508.1,238.1 508.7,255.0 509.4,240.5 510.0,222.3 510.6,204.6 511.2,197.4 511.8,195.6 512.4,198.7 513.0,202.4 513.6,228.6 514.2,246.1 514.8,220.5 515.4,205.3 516.0,205.3 516.6,212.2 517.2,233.5 517.8,236.2 518.4,214.5 519.0,204.3 519.6,201.7 520.2,199.9 520.8,198.8 521.4,197.7 522.0,196.5 522.6,195.0 523.2,193.5 523.8,193.2 524.4,193.2 525.0,193.2 525.6,193.5 526.2,193.9 526.8,193.9 527.4,194.5 528.0,195.0 528.6,195.6 529.2,196.2 529.8,197.2 530.4,197.5 531.0,197.7 531.6,198.3 532.2,198.3 532.8,198.4 533.4,199.1 534.0,199.4 534.6,199.3 535.2,199.7 535.8,199.8 536.4,199.9 537.0,199.6 537.6,199.9 538.2,199.7 538.8,200.0 539.4,199.8 540.0,200.0 540.6,199.8 541.2,200.0 541.8,199.9 542.4,200.1 543.0,200.3 543.6,200.5 544.2,200.5 544.8,200.8 545.4,200.8 546.0,201.2 546.6,201.5 547.2,201.6 547.8,201.6 548.4,202.0 549.0,202.0 549.6,202.1 550.2,202.2 550.8,202.1 551.4,203.1 552.0,204.0 552.6,204.9 553.2,205.7 553.8,206.5 554.4,206.5 555.0,206.5 555.6,206.4 556.2,206.1 556.8,206.5 557.4,206.3 558.0,206.3 558.6,206.3 559.3,206.4 559.9,206.7 560.5,207.4 561.1,207.8 561.7,207.9 562.3,208.7 562.9,209.1 563.5,209.5 564.1,209.8 564.7,210.1 565.3,210.5 565.9,210.9 566.5,211.6 567.1,212.0 567.7,212.3 568.3,212.6 568.9,213.0 569.5,213.4 570.1,213.6 570.7,214.0 571.3,214.8 571.9,214.8 572.5,215.2 573.1,215.7 573.7,215.9 574.3,216.6 574.9,216.8 575.5,217.7 576.1,217.8 576.7,218.6 577.3,218.9 577.9,219.6 578.5,220.1 579.1,220.7 579.7,220.8 580.3,221.7 580.9,221.8 581.5,222.4 582.1,222.7 582.7,223.4 583.3,223.7 583.9,224.5 584.5,225.2 585.1,225.6 585.7,226.0 586.3,226.2 586.9,227.2 587.5,227.4 588.1,228.2 588.7,228.3 589.3,228.9 589.9,229.7 590.5,230.1 591.1,230.5 591.7,231.2 592.3,231.9 592.9,232.3 593.5,232.9 594.1,233.5 594.7,234.3 595.3,234.8 595.9,235.4 596.5,236.1 597.1,236.6 597.7,237.3 598.3,238.0 598.9,238.3 599.5,238.8 600.1,239.5 600.7,240.0 601.3,240.6 601.9,241.3 602.5,241.9 603.1,242.4 603.7,243.1 604.3,243.4 604.9,244.1 605.5,244.6 606.1,245.3 606.7,246.0 607.3,246.6 607.9,247.3 608.6,248.2 609.2,248.6 609.8,249.5 610.4,249.9 611.0,250.7 611.6,251.2 612.2,251.8 612.8,252.6 613.4,253.0 614.0,253.6 614.6,254.0 615.2,254.6 615.8,255.3 616.4,255.9 617.0,256.4 617.6,257.4 618.2,257.5 618.8,258.3 619.4,258.7 620.0,259.3 620.6,260.0 621.2,260.6 621.8,260.8 622.4,261.5 623.0,262.0 623.6,262.2 624.2,262.8 624.8,263.3 625.4,264.0 626.0,264.2 626.6,265.0 627.2,265.3 627.8,266.3 628.4,267.0 629.0,267.5 629.6,268.3 630.2,269.3 630.8,269.8 631.4,270.4 632.0,271.3 632.6,272.1 633.2,272.8" fill="none" stroke="#D95319" stroke-width="1.5" stroke-linejoin="round" stroke-linecap="round" stroke-dasharray="5.5 4.5" stroke-linecap="butt"/>
<polyline points="385.5,273.3 386.3,272.9 387.1,273.1 387.9,273.0 388.7,273.3 389.5,273.3 390.3,273.4 391.1,272.9 391.9,273.0 392.7,272.7 393.5,272.7 394.3,272.8 395.1,272.4 395.9,272.5 396.7,272.7 397.5,272.6 398.3,272.3 399.1,272.5 399.9,272.6 400.7,272.1 401.5,272.5 402.3,272.4 403.1,272.1 403.9,272.0 404.7,272.4 405.5,272.0 406.3,271.8 407.1,271.7 407.9,272.1 408.7,271.6 409.5,270.8 410.4,269.9 411.2,268.3 412.0,267.0 412.8,265.1 413.6,263.8 414.4,262.5 415.2,261.6 416.0,261.2 416.8,260.6 417.6,260.1 418.4,258.8 419.2,258.0 420.0,257.1 420.8,256.0 421.6,255.2 422.4,254.2 423.2,253.4 424.0,252.7 424.8,251.7 425.6,250.9 426.4,250.0 427.2,249.3 428.0,248.9 428.8,247.9 429.6,247.0 430.4,245.9 431.2,245.5 432.0,244.3 432.8,243.5 433.6,243.0 434.4,241.9 435.2,240.9 436.0,240.1 436.8,239.0 437.6,237.7 438.4,236.1 439.2,234.7 440.0,233.7 440.8,232.7 441.6,231.7 442.4,231.2 443.2,230.2 444.0,229.2 444.8,228.8 445.6,228.1 446.4,228.3 447.2,228.1 448.0,227.9 448.8,227.3 449.6,227.0 450.4,226.2 451.2,225.9 452.0,225.7 452.8,225.0 453.6,224.5 454.4,224.5 455.2,223.8 456.0,223.2 456.8,222.8 457.6,222.4 458.4,222.1 459.2,221.5 460.1,220.5 460.9,219.7 461.7,219.5 462.5,219.5 463.3,218.8 464.1,218.6 464.9,217.9 465.7,216.7 466.5,216.5 467.3,216.2 468.1,215.9 468.9,215.6 469.7,215.6 470.5,214.8 471.3,214.5 472.1,214.0 472.9,213.6 473.7,212.7 474.5,211.0 475.3,209.4 476.1,207.4 476.9,206.2 477.7,204.6 478.5,202.7 479.3,199.5 480.1,197.3 480.9,196.4 481.7,196.6 482.5,196.7 483.3,196.9 484.1,196.3 484.9,195.6 485.7,196.3 486.5,196.6 487.3,196.6 488.1,196.1 488.9,196.6 489.7,197.0 490.5,197.0 491.3,197.4 492.1,195.6 492.9,192.9 493.7,193.6 494.5,195.2 495.3,197.3 496.1,196.5 496.9,195.4 497.7,194.9 498.5,194.4 499.3,193.7 500.1,194.3 500.9,194.2 501.7,194.1 502.5,193.2 503.3,191.4 504.1,187.7 504.9,188.5 505.7,195.0 506.5,200.7 507.3,201.7 508.1,192.8 508.9,194.7 509.8,198.3 510.6,203.3 511.4,199.1 512.2,195.3 513.0,192.6 513.8,191.5 514.6,192.9 515.4,196.4 516.2,201.0 517.0,202.9 517.8,202.8 518.6,206.0 519.4,205.2 520.2,202.3 521.0,198.8 521.8,196.8 522.6,194.3 523.4,192.0 524.2,191.4 525.0,190.6 525.8,189.5 526.6,189.0 527.4,188.8 528.2,188.8 529.0,189.1 529.8,189.5 530.6,188.8 531.4,188.1 532.2,187.3 533.0,187.3 533.8,187.0 534.6,187.1 535.4,186.5 536.2,186.6 537.0,186.9 537.8,187.0 538.6,187.1 539.4,187.2 540.2,187.7 541.0,187.2 541.8,187.1 542.6,186.5 543.4,185.8 544.2,185.9 545.0,185.5 545.8,185.3 546.6,185.0 547.4,184.7 548.2,184.0 549.0,184.6 549.8,185.3 550.6,186.2 551.4,186.4 552.2,186.4 553.0,186.6 553.8,186.1 554.6,186.2 555.4,185.9 556.2,185.8 557.0,186.0 557.8,185.9 558.6,185.5 559.5,185.8 560.3,185.7 561.1,186.1 561.9,186.9 562.7,187.0 563.5,187.3 564.3,187.7 565.1,187.6 565.9,188.2 566.7,188.4 567.5,188.9 568.3,188.7 569.1,189.5 569.9,189.3 570.7,189.8 571.5,190.4 572.3,190.9 573.1,191.0 573.9,191.4 574.7,192.3 575.5,192.5 576.3,193.3 577.1,194.0 577.9,194.5 578.7,195.2 579.5,195.8 580.3,196.5 581.1,196.4 581.9,197.1 582.7,197.2 583.5,197.7 584.3,198.3 585.1,198.4 585.9,198.9 586.7,199.5 587.5,199.5 588.3,200.4 589.1,201.4 589.9,202.0 590.7,202.1 591.5,202.9 592.3,203.6 593.1,204.7 593.9,205.3 594.7,206.0 595.5,206.3 596.3,206.9 597.1,207.9 597.9,208.5 598.7,209.1 599.5,210.0 600.3,210.5 601.1,210.8 601.9,211.9 602.7,212.3 603.5,213.2 604.3,214.2 605.1,214.5 605.9,215.3 606.7,216.1 607.5,217.2 608.3,217.8 609.2,218.8 610.0,219.7 610.8,220.2 611.6,221.2 612.4,221.8 613.2,222.8 614.0,223.8 614.8,224.6 615.6,224.9 616.4,225.9 617.2,226.6 618.0,227.3 618.8,228.5 619.6,229.3 620.4,229.8 621.2,230.9 622.0,231.6 622.8,232.3 623.6,232.9 624.4,233.7 625.2,235.0 626.0,235.8 626.8,236.4 627.6,237.7 628.4,238.6 629.2,239.4 630.0,240.4 630.8,241.6 631.6,243.0 632.4,244.0 633.2,245.1" fill="none" stroke="#000" stroke-width="1.5" stroke-linejoin="round" stroke-linecap="round" />
<ellipse cx="549.7" cy="185.4" rx="5.7" ry="4.3" fill="none" stroke="#ee2020" stroke-width="1.4"/>
<rect x="407.1" y="253.5" width="17.8" height="21.9" fill="none" stroke="#ee2020" stroke-width="1.4" stroke-dasharray="5 3.5"/>
<text x="427.4" y="271.1" font-size="12.4" text-anchor="start" fill="#111" font-weight="normal" textLength="20.6" lengthAdjust="spacingAndGlyphs" >Flip</text>
<line x1="394.2" y1="193" x2="419.7" y2="193" stroke="#2e8fd6" stroke-width="1.5" stroke-dasharray="5 1 2.5 1"/>
<line x1="394.2" y1="205.9" x2="419.7" y2="205.9" stroke="#D95319" stroke-width="1.5" stroke-dasharray="5.5 4.5"/>
<line x1="394.2" y1="218.5" x2="419.7" y2="218.5" stroke="#000" stroke-width="1.4"/>
<text x="422.5" y="196.7" font-size="10.9" text-anchor="start" fill="#262626" font-weight="normal" textLength="38.2" lengthAdjust="spacingAndGlyphs" >Voltage</text>
<text x="422.5" y="209.4" font-size="10.9" text-anchor="start" fill="#262626" font-weight="normal"  >Current</text>
<text x="422.5" y="222.2" font-size="10.9" text-anchor="start" fill="#262626" font-weight="normal"  >ΔT</text>
<line x1="385.5" y1="179.2" x2="633.2" y2="179.2" stroke="#6a6a6a" stroke-width="1"/>
<line x1="385.5" y1="282.5" x2="633.2" y2="282.5" stroke="#6a6a6a" stroke-width="1"/>
<line x1="385.5" y1="179.2" x2="385.5" y2="282.5" stroke="#6a6a6a" stroke-width="1"/>
<line x1="633.2" y1="179.2" x2="633.2" y2="282.5" stroke="#6a6a6a" stroke-width="1"/>
<text x="381" y="410.6" font-size="11.0" text-anchor="end" fill="#262626" font-weight="normal"  >0</text>
<text x="381" y="385.23333333333335" font-size="11.0" text-anchor="end" fill="#262626" font-weight="normal"  >200</text>
<text x="381" y="359.8666666666667" font-size="11.0" text-anchor="end" fill="#262626" font-weight="normal"  >400</text>
<text x="381" y="334.5" font-size="11.0" text-anchor="end" fill="#262626" font-weight="normal"  >600</text>
<text x="638.5" y="411.3" font-size="11.0" text-anchor="start" fill="#ee2020" font-weight="normal"  >0</text>
<text x="638.5" y="388.85" font-size="11.0" text-anchor="start" fill="#ee2020" font-weight="normal"  >200</text>
<text x="638.5" y="366.40000000000003" font-size="11.0" text-anchor="start" fill="#ee2020" font-weight="normal"  >400</text>
<text x="638.5" y="343.95" font-size="11.0" text-anchor="start" fill="#ee2020" font-weight="normal"  >600</text>
<text x="638.5" y="321.5" font-size="11.0" text-anchor="start" fill="#ee2020" font-weight="normal"  >800</text>
<line x1="385.5" y1="406.8" x2="389.7" y2="406.8" stroke="#6a6a6a" stroke-width="0.9"/>
<line x1="385.5" y1="394.1" x2="387.7" y2="394.1" stroke="#6a6a6a" stroke-width="0.9"/>
<line x1="385.5" y1="381.4" x2="389.7" y2="381.4" stroke="#6a6a6a" stroke-width="0.9"/>
<line x1="385.5" y1="368.8" x2="387.7" y2="368.8" stroke="#6a6a6a" stroke-width="0.9"/>
<line x1="385.5" y1="356.1" x2="389.7" y2="356.1" stroke="#6a6a6a" stroke-width="0.9"/>
<line x1="385.5" y1="343.4" x2="387.7" y2="343.4" stroke="#6a6a6a" stroke-width="0.9"/>
<line x1="385.5" y1="330.7" x2="389.7" y2="330.7" stroke="#6a6a6a" stroke-width="0.9"/>
<line x1="385.5" y1="318.0" x2="387.7" y2="318.0" stroke="#6a6a6a" stroke-width="0.9"/>
<line x1="385.5" y1="305.3" x2="389.7" y2="305.3" stroke="#6a6a6a" stroke-width="0.9"/>
<line x1="634.2" y1="407.5" x2="632.2" y2="407.5" stroke="#ee2020" stroke-width="0.9"/>
<line x1="634.2" y1="401.9" x2="632.9000000000001" y2="401.9" stroke="#ee2020" stroke-width="0.9"/>
<line x1="634.2" y1="396.3" x2="632.9000000000001" y2="396.3" stroke="#ee2020" stroke-width="0.9"/>
<line x1="634.2" y1="390.7" x2="632.9000000000001" y2="390.7" stroke="#ee2020" stroke-width="0.9"/>
<line x1="634.2" y1="385.1" x2="632.2" y2="385.1" stroke="#ee2020" stroke-width="0.9"/>
<line x1="634.2" y1="379.4" x2="632.9000000000001" y2="379.4" stroke="#ee2020" stroke-width="0.9"/>
<line x1="634.2" y1="373.8" x2="632.9000000000001" y2="373.8" stroke="#ee2020" stroke-width="0.9"/>
<line x1="634.2" y1="368.2" x2="632.9000000000001" y2="368.2" stroke="#ee2020" stroke-width="0.9"/>
<line x1="634.2" y1="362.6" x2="632.2" y2="362.6" stroke="#ee2020" stroke-width="0.9"/>
<line x1="634.2" y1="357.0" x2="632.9000000000001" y2="357.0" stroke="#ee2020" stroke-width="0.9"/>
<line x1="634.2" y1="351.4" x2="632.9000000000001" y2="351.4" stroke="#ee2020" stroke-width="0.9"/>
<line x1="634.2" y1="345.8" x2="632.9000000000001" y2="345.8" stroke="#ee2020" stroke-width="0.9"/>
<line x1="634.2" y1="340.1" x2="632.2" y2="340.1" stroke="#ee2020" stroke-width="0.9"/>
<line x1="634.2" y1="334.5" x2="632.9000000000001" y2="334.5" stroke="#ee2020" stroke-width="0.9"/>
<line x1="634.2" y1="328.9" x2="632.9000000000001" y2="328.9" stroke="#ee2020" stroke-width="0.9"/>
<line x1="634.2" y1="323.3" x2="632.9000000000001" y2="323.3" stroke="#ee2020" stroke-width="0.9"/>
<line x1="634.2" y1="317.7" x2="632.2" y2="317.7" stroke="#ee2020" stroke-width="0.9"/>
<line x1="634.2" y1="312.1" x2="632.9000000000001" y2="312.1" stroke="#ee2020" stroke-width="0.9"/>
<line x1="634.2" y1="306.5" x2="632.9000000000001" y2="306.5" stroke="#ee2020" stroke-width="0.9"/>
<line x1="399.4" y1="407.0" x2="399.4" y2="402.8" stroke="#6a6a6a" stroke-width="0.9"/>
<line x1="399.4" y1="305.0" x2="399.4" y2="309.2" stroke="#6a6a6a" stroke-width="0.9"/>
<line x1="418.6" y1="407.0" x2="418.6" y2="404.8" stroke="#6a6a6a" stroke-width="0.9"/>
<line x1="418.6" y1="305.0" x2="418.6" y2="307.2" stroke="#6a6a6a" stroke-width="0.9"/>
<line x1="437.9" y1="407.0" x2="437.9" y2="404.8" stroke="#6a6a6a" stroke-width="0.9"/>
<line x1="437.9" y1="305.0" x2="437.9" y2="307.2" stroke="#6a6a6a" stroke-width="0.9"/>
<line x1="457.1" y1="407.0" x2="457.1" y2="404.8" stroke="#6a6a6a" stroke-width="0.9"/>
<line x1="457.1" y1="305.0" x2="457.1" y2="307.2" stroke="#6a6a6a" stroke-width="0.9"/>
<line x1="476.4" y1="407.0" x2="476.4" y2="404.8" stroke="#6a6a6a" stroke-width="0.9"/>
<line x1="476.4" y1="305.0" x2="476.4" y2="307.2" stroke="#6a6a6a" stroke-width="0.9"/>
<line x1="495.6" y1="407.0" x2="495.6" y2="402.8" stroke="#6a6a6a" stroke-width="0.9"/>
<line x1="495.6" y1="305.0" x2="495.6" y2="309.2" stroke="#6a6a6a" stroke-width="0.9"/>
<line x1="514.9" y1="407.0" x2="514.9" y2="404.8" stroke="#6a6a6a" stroke-width="0.9"/>
<line x1="514.9" y1="305.0" x2="514.9" y2="307.2" stroke="#6a6a6a" stroke-width="0.9"/>
<line x1="534.1" y1="407.0" x2="534.1" y2="404.8" stroke="#6a6a6a" stroke-width="0.9"/>
<line x1="534.1" y1="305.0" x2="534.1" y2="307.2" stroke="#6a6a6a" stroke-width="0.9"/>
<line x1="553.4" y1="407.0" x2="553.4" y2="404.8" stroke="#6a6a6a" stroke-width="0.9"/>
<line x1="553.4" y1="305.0" x2="553.4" y2="307.2" stroke="#6a6a6a" stroke-width="0.9"/>
<line x1="572.6" y1="407.0" x2="572.6" y2="404.8" stroke="#6a6a6a" stroke-width="0.9"/>
<line x1="572.6" y1="305.0" x2="572.6" y2="307.2" stroke="#6a6a6a" stroke-width="0.9"/>
<line x1="591.9" y1="407.0" x2="591.9" y2="402.8" stroke="#6a6a6a" stroke-width="0.9"/>
<line x1="591.9" y1="305.0" x2="591.9" y2="309.2" stroke="#6a6a6a" stroke-width="0.9"/>
<line x1="611.1" y1="407.0" x2="611.1" y2="404.8" stroke="#6a6a6a" stroke-width="0.9"/>
<line x1="611.1" y1="305.0" x2="611.1" y2="307.2" stroke="#6a6a6a" stroke-width="0.9"/>
<line x1="630.4" y1="407.0" x2="630.4" y2="404.8" stroke="#6a6a6a" stroke-width="0.9"/>
<line x1="630.4" y1="305.0" x2="630.4" y2="307.2" stroke="#6a6a6a" stroke-width="0.9"/>
<text transform="translate(668,357.2) rotate(-90)" font-size="12" text-anchor="middle" textLength="116.5" lengthAdjust="spacingAndGlyphs" fill="#ee2020">Solar intensity (W/m<tspan font-size="8" dy="-4">2</tspan><tspan dy="4">)</tspan></text>
<polygon points="385.5,407.0 385.5,405.1 386.7,405.5 387.9,405.2 389.1,406.0 390.3,405.4 391.5,405.9 392.7,406.4 393.9,405.7 395.1,406.3 396.3,406.0 397.5,405.7 398.7,405.8 399.9,405.5 401.1,405.1 402.3,405.6 403.5,404.7 404.7,404.9 405.9,404.2 407.1,402.9 408.3,402.6 409.5,402.4 410.7,402.3 411.9,401.2 413.1,401.3 414.3,400.8 415.5,400.9 416.7,400.8 417.9,400.3 419.1,399.3 420.3,399.5 421.5,398.6 422.7,398.3 423.9,397.1 425.1,396.8 426.3,396.0 427.6,394.9 428.8,394.0 430.0,393.0 431.2,391.5 432.4,389.9 433.6,389.6 434.8,387.8 436.0,386.1 437.2,385.4 438.4,384.1 439.6,382.8 440.8,382.6 442.0,380.6 443.2,380.4 444.4,378.8 445.6,377.2 446.8,376.3 448.0,375.2 449.2,373.6 450.4,373.1 451.6,371.8 452.8,371.0 454.0,369.8 455.2,368.7 456.4,367.8 457.6,366.1 458.8,364.0 460.0,362.1 461.2,360.4 462.4,359.0 463.6,357.4 464.8,356.3 466.0,355.3 467.2,353.4 468.4,352.9 469.6,351.6 470.8,351.3 472.0,350.4 473.2,349.5 474.4,349.1 475.6,347.7 476.8,347.5 478.0,346.6 479.2,345.6 480.4,345.8 481.6,344.2 482.8,344.0 484.0,343.3 485.2,342.7 486.4,342.3 487.6,341.2 488.8,341.0 490.0,339.8 491.2,339.5 492.4,338.7 493.6,338.3 494.8,335.2 496.0,333.9 497.2,333.0 498.4,333.3 499.6,333.6 500.8,332.4 502.0,332.9 503.2,332.7 504.4,331.7 505.6,328.0 506.8,324.4 508.0,324.2 509.2,323.1 510.5,323.2 511.7,322.8 512.9,322.8 514.1,322.5 515.3,322.0 516.5,323.0 517.7,322.9 518.9,323.9 520.1,324.7 521.3,327.3 522.5,328.9 523.7,328.7 524.9,327.5 526.1,326.7 527.3,326.7 528.5,327.2 529.7,327.8 530.9,328.8 532.1,329.9 533.3,331.1 534.5,329.9 535.7,329.4 536.9,328.4 538.1,328.3 539.3,328.9 540.5,328.1 541.7,328.6 542.9,328.5 544.1,329.6 545.3,329.5 546.5,329.5 547.7,330.2 548.9,331.4 550.1,331.6 551.3,331.2 552.5,332.7 553.7,332.2 554.9,333.1 556.1,333.6 557.3,334.4 558.5,334.1 559.7,335.3 560.9,335.1 562.1,336.1 563.3,336.8 564.5,336.9 565.7,336.7 566.9,337.8 568.1,338.0 569.3,339.0 570.5,339.6 571.7,339.5 572.9,340.6 574.1,341.2 575.3,342.2 576.5,342.4 577.7,343.0 578.9,343.8 580.1,344.1 581.3,345.9 582.5,346.6 583.7,347.6 584.9,348.1 586.1,349.5 587.3,350.4 588.5,350.7 589.7,352.1 590.9,352.6 592.1,352.8 593.4,353.0 594.6,354.6 595.8,354.4 597.0,355.8 598.2,356.8 599.4,358.2 600.6,358.9 601.8,359.9 603.0,360.8 604.2,362.3 605.4,363.1 606.6,363.6 607.8,365.1 609.0,366.2 610.2,366.7 611.4,367.3 612.6,368.4 613.8,370.6 615.0,371.0 616.2,372.9 617.4,373.4 618.6,374.7 619.8,375.8 621.0,378.0 622.2,378.6 623.4,380.5 624.6,382.3 625.8,383.5 627.0,384.4 628.2,386.0 629.4,388.4 630.6,389.4 631.8,390.2 633.0,391.6 634.2,392.8 634.2,407.0" fill="#dcf9dc"/>
<path d="M431.8,390.8 L432.4,392.5 L433.0,390.8 M435.8,386.8 L436.4,393 L437.0,386.8 M437.5,385.1 L438.1,390.5 L438.7,385.1 M439.7,383.0 L440.3,387.2 L440.9,383.0 M442.0,381.0 L442.6,387.2 L443.2,381.0 M443.7,379.4 L444.3,387.2 L444.9,379.4 M445.4,377.8 L446.0,390.2 L446.6,377.8 M447.7,375.5 L448.3,388.5 L448.9,375.5 M449.4,373.8 L450.0,384 L450.6,373.8 M451.6,371.6 L452.2,392.5 L452.8,371.6 M453.3,370.0 L453.9,389.7 L454.5,370.0 M456.2,367.4 L456.8,375 L457.4,367.4 M458.4,364.4 L459.0,384 L459.6,364.4 M460.7,361.0 L461.3,397 L461.9,361.0 M461.8,359.5 L462.4,378.3 L463.0,359.5 M466.0,354.9 L466.6,366 L467.2,354.9 " fill="none" stroke="#187818" stroke-width="1.1"/>
<polyline points="385.5,405.1 386.7,405.5 387.9,405.2 389.1,406.0 390.3,405.4 391.5,405.9 392.7,406.4 393.9,405.7 395.1,406.3 396.3,406.0 397.5,405.7 398.7,405.8 399.9,405.5 401.1,405.1 402.3,405.6 403.5,404.7 404.7,404.9 405.9,404.2 407.1,402.9 408.3,402.6 409.5,402.4 410.7,402.3 411.9,401.2 413.1,401.3 414.3,400.8 415.5,400.9 416.7,400.8 417.9,400.3 419.1,399.3 420.3,399.5 421.5,398.6 422.7,398.3 423.9,397.1 425.1,396.8 426.3,396.0 427.6,394.9 428.8,394.0 430.0,393.0 431.2,391.5 432.4,389.9 433.6,389.6 434.8,387.8 436.0,386.1 437.2,385.4 438.4,384.1 439.6,382.8 440.8,382.6 442.0,380.6 443.2,380.4 444.4,378.8 445.6,377.2 446.8,376.3 448.0,375.2 449.2,373.6 450.4,373.1 451.6,371.8 452.8,371.0 454.0,369.8 455.2,368.7 456.4,367.8 457.6,366.1 458.8,364.0 460.0,362.1 461.2,360.4 462.4,359.0 463.6,357.4 464.8,356.3 466.0,355.3 467.2,353.4 468.4,352.9 469.6,351.6 470.8,351.3 472.0,350.4 473.2,349.5 474.4,349.1 475.6,347.7 476.8,347.5 478.0,346.6 479.2,345.6 480.4,345.8 481.6,344.2 482.8,344.0 484.0,343.3 485.2,342.7 486.4,342.3 487.6,341.2 488.8,341.0 490.0,339.8 491.2,339.5 492.4,338.7 493.6,338.3 494.8,335.2 496.0,333.9 497.2,333.0 498.4,333.3 499.6,333.6 500.8,332.4 502.0,332.9 503.2,332.7 504.4,331.7 505.6,328.0 506.8,324.4 508.0,324.2 509.2,323.1 510.5,323.2 511.7,322.8 512.9,322.8 514.1,322.5 515.3,322.0 516.5,323.0 517.7,322.9 518.9,323.9 520.1,324.7 521.3,327.3 522.5,328.9 523.7,328.7 524.9,327.5 526.1,326.7 527.3,326.7 528.5,327.2 529.7,327.8 530.9,328.8 532.1,329.9 533.3,331.1 534.5,329.9 535.7,329.4 536.9,328.4 538.1,328.3 539.3,328.9 540.5,328.1 541.7,328.6 542.9,328.5 544.1,329.6 545.3,329.5 546.5,329.5 547.7,330.2 548.9,331.4 550.1,331.6 551.3,331.2 552.5,332.7 553.7,332.2 554.9,333.1 556.1,333.6 557.3,334.4 558.5,334.1 559.7,335.3 560.9,335.1 562.1,336.1 563.3,336.8 564.5,336.9 565.7,336.7 566.9,337.8 568.1,338.0 569.3,339.0 570.5,339.6 571.7,339.5 572.9,340.6 574.1,341.2 575.3,342.2 576.5,342.4 577.7,343.0 578.9,343.8 580.1,344.1 581.3,345.9 582.5,346.6 583.7,347.6 584.9,348.1 586.1,349.5 587.3,350.4 588.5,350.7 589.7,352.1 590.9,352.6 592.1,352.8 593.4,353.0 594.6,354.6 595.8,354.4 597.0,355.8 598.2,356.8 599.4,358.2 600.6,358.9 601.8,359.9 603.0,360.8 604.2,362.3 605.4,363.1 606.6,363.6 607.8,365.1 609.0,366.2 610.2,366.7 611.4,367.3 612.6,368.4 613.8,370.6 615.0,371.0 616.2,372.9 617.4,373.4 618.6,374.7 619.8,375.8 621.0,378.0 622.2,378.6 623.4,380.5 624.6,382.3 625.8,383.5 627.0,384.4 628.2,386.0 629.4,388.4 630.6,389.4 631.8,390.2 633.0,391.6 634.2,392.8" fill="none" stroke="#2a9a2a" stroke-width="1.1" stroke-linejoin="round" stroke-linecap="round" />
<polyline points="385.5,405.4 386.3,404.9 387.1,405.3 387.9,405.2 388.7,405.5 389.5,405.2 390.3,405.6 391.1,405.1 391.9,405.7 392.7,405.4 393.5,405.4 394.3,405.6 395.1,405.8 395.9,405.6 396.7,405.9 397.5,405.8 398.3,406.0 399.1,406.1 399.9,406.2 400.7,406.3 401.5,406.7 402.3,406.6 403.1,406.9 404.0,407.0 404.8,407.1 405.6,407.2 406.4,407.0 407.2,407.1 408.0,407.2 408.8,407.0 409.6,406.7 410.4,406.9 411.2,406.9 412.0,406.6 412.8,406.6 413.6,406.6 414.4,406.9 415.2,406.9 416.0,406.8 416.8,406.5 417.6,405.9 418.4,405.6 419.2,405.7 420.0,405.3 420.8,405.0 421.6,404.5 422.4,404.2 423.2,403.8 424.0,403.4 424.8,403.2 425.6,402.6 426.4,402.3 427.2,401.8 428.0,401.4 428.8,401.1 429.6,400.7 430.4,399.9 431.2,399.8 432.0,399.0 432.8,398.2 433.6,397.2 434.4,396.8 435.2,396.0 436.0,394.9 436.8,394.4 437.6,393.8 438.4,393.0 439.3,392.4 440.1,391.5 440.9,390.8 441.7,389.8 442.5,389.3 443.3,388.2 444.1,387.8 444.9,387.1 445.7,386.0 446.5,385.0 447.3,384.2 448.1,383.6 448.9,382.5 449.7,382.0 450.5,381.0 451.3,380.0 452.1,379.2 452.9,378.0 453.7,377.4 454.5,376.3 455.3,375.8 456.1,375.2 456.9,374.0 457.7,373.5 458.5,372.5 459.3,370.9 460.1,369.6 460.9,368.6 461.7,368.0 462.5,366.5 463.3,366.3 464.1,365.3 464.9,364.9 465.7,364.2 466.5,363.9 467.3,363.7 468.1,364.1 468.9,364.1 469.7,364.1 470.5,362.8 471.3,361.7 472.1,360.9 472.9,360.0 473.7,359.7 474.6,359.6 475.4,359.0 476.2,358.5 477.0,359.1 477.8,358.9 478.6,359.4 479.4,358.4 480.2,357.1 481.0,355.9 481.8,355.1 482.6,354.6 483.4,353.8 484.2,352.9 485.0,352.4 485.8,351.4 486.6,350.7 487.4,349.4 488.2,348.6 489.0,348.1 489.8,347.0 490.6,346.7 491.4,346.2 492.2,345.2 493.0,344.2 493.8,362.6 494.6,341.8 495.4,338.0 496.2,337.8 497.0,337.7 497.8,337.8 498.6,337.9 499.4,339.9 500.2,341.8 501.0,344.2 501.8,342.4 502.6,339.5 503.4,363.1 504.2,387.0 505.0,358.5 505.8,329.6 506.6,346.5 507.4,374.7 508.2,391.9 509.0,360.5 509.9,328.8 510.7,316.9 511.5,309.0 512.3,319.7 513.1,343.9 513.9,386.6 514.7,368.4 515.5,337.7 516.3,342.2 517.1,371.4 517.9,377.6 518.7,340.8 519.5,351.2 520.3,366.6 521.1,332.0 521.9,320.3 522.7,316.6 523.5,315.2 524.3,314.3 525.1,314.8 525.9,315.5 526.7,317.2 527.5,318.5 528.3,321.4 529.1,324.7 529.9,327.4 530.7,329.5 531.5,330.4 532.3,328.5 533.1,326.6 533.9,327.5 534.7,329.2 535.5,329.7 536.3,330.6 537.1,331.5 537.9,332.0 538.7,331.9 539.5,331.6 540.3,331.7 541.1,331.6 541.9,331.9 542.7,332.1 543.5,332.7 544.3,333.0 545.1,333.6 546.0,333.7 546.8,334.5 547.6,335.1 548.4,335.3 549.2,336.4 550.0,336.7 550.8,337.3 551.6,337.8 552.4,338.3 553.2,339.0 554.0,339.4 554.8,339.6 555.6,340.0 556.4,340.4 557.2,340.6 558.0,342.0 558.8,342.7 559.6,343.5 560.4,344.6 561.2,345.6 562.0,346.9 562.8,347.5 563.6,348.5 564.4,350.0 565.2,350.6 566.0,352.0 566.8,352.5 567.6,353.5 568.4,354.7 569.2,356.0 570.0,357.3 570.8,358.4 571.6,360.0 572.4,361.2 573.2,362.2 574.0,363.5 574.8,364.5 575.6,365.5 576.4,366.3 577.2,367.0 578.0,368.3 578.8,368.9 579.6,370.2 580.4,371.5 581.3,372.2 582.1,373.4 582.9,374.5 583.7,375.4 584.5,376.2 585.3,377.3 586.1,378.1 586.9,379.5 587.7,380.4 588.5,381.2 589.3,382.3 590.1,383.6 590.9,384.1 591.7,385.2 592.5,386.4 593.3,387.5 594.1,388.3 594.9,389.4 595.7,389.9 596.5,391.1 597.3,391.9 598.1,392.4 598.9,393.5 599.7,394.1 600.5,395.0 601.3,396.0 602.1,396.8 602.9,397.0 603.7,397.8 604.5,398.8 605.3,399.7 606.1,400.3 606.9,400.6 607.7,401.3 608.5,401.8 609.3,401.8 610.1,402.2 610.9,402.9 611.7,403.5 612.5,403.8 613.3,404.2 614.1,404.4 614.9,404.8 615.7,405.1 616.6,405.8 617.4,406.0 618.2,406.3 619.0,406.4 619.8,406.4 620.6,406.8 621.4,406.7 622.2,406.9 623.0,407.0 623.8,407.1 624.6,407.3 625.4,407.1 626.2,406.7 627.0,407.2 627.8,407.0 628.6,407.1 629.4,406.7 630.2,406.7 631.0,406.7 631.8,406.8 632.6,406.8 633.4,407.1 634.2,407.2" fill="none" stroke="#000" stroke-width="1.4" stroke-linejoin="round" stroke-linecap="round" />
<path d="M504.3,324 L505.6,395 L506.9,323 Z" fill="#3c963c" stroke="#136013" stroke-width="0.9" stroke-linejoin="round"/>
<path d="M508.2,322 L509.5,400 L510.8,322 Z" fill="#3c963c" stroke="#136013" stroke-width="0.9" stroke-linejoin="round"/>
<path d="M513.4,322 L514.8,397 L516,322 Z" fill="#3c963c" stroke="#136013" stroke-width="0.9" stroke-linejoin="round"/>
<path d="M516.4,323 L517.3,391 L518.3,323 Z" fill="#3c963c" stroke="#136013" stroke-width="0.9" stroke-linejoin="round"/>
<path d="M518.8,324 L519.6,372 L520.5,325 Z" fill="#3c963c" stroke="#136013" stroke-width="0.9" stroke-linejoin="round"/>
<path d="M499.6,334 L500.3,346 L501,334 Z" fill="#3c963c" stroke="#136013" stroke-width="0.9" stroke-linejoin="round"/>
<path d="M495.8,336 L496.3,372 L496.9,335 Z" fill="#3c963c" stroke="#136013" stroke-width="0.9" stroke-linejoin="round"/>
<path d="M505.2,390 L506,326 M509,395 L510,323 M514.3,392 L515.5,326 M511,325 L511.6,307.9 L512.4,326" fill="none" stroke="#000" stroke-width="1.1"/>
<ellipse cx="512.1" cy="310.2" rx="5.7" ry="4.3" fill="none" stroke="#ee2020" stroke-width="1.4"/>
<line x1="395" y1="319.5" x2="419.2" y2="319.5" stroke="#000" stroke-width="1.4"/>
<rect x="394.5" y="327.8" width="25.5" height="9.2" fill="#dcf9dc" stroke="#9ab89a" stroke-width="0.8"/>
<text x="422.2" y="323.5" font-size="10.9" text-anchor="start" fill="#262626" font-weight="normal"  >Power density</text>
<text x="422.2" y="337.2" font-size="10.9" text-anchor="start" fill="#262626" font-weight="normal"  >Solar intensity</text>
<line x1="385.5" y1="305.0" x2="634.2" y2="305.0" stroke="#6a6a6a" stroke-width="1"/>
<line x1="385.5" y1="407.0" x2="634.2" y2="407.0" stroke="#b0685a" stroke-width="1"/>
<line x1="385.5" y1="305.0" x2="385.5" y2="407.0" stroke="#6a6a6a" stroke-width="1"/>
<line x1="634.2" y1="305.0" x2="634.2" y2="407.0" stroke="#ee2020" stroke-width="1"/>
<text x="431.8" y="422.6" font-size="11.0" text-anchor="middle" fill="#262626" font-weight="normal"  >8:00</text>
<text x="432.1" y="438.6" font-size="11.0" text-anchor="middle" fill="#262626" font-weight="normal"  >AM</text>
<text x="528.5" y="422.6" font-size="11.0" text-anchor="middle" fill="#262626" font-weight="normal"  >12:00</text>
<text x="528.8" y="438.6" font-size="11.0" text-anchor="middle" fill="#262626" font-weight="normal"  >PM</text>
<text x="624.9" y="422.6" font-size="11.0" text-anchor="middle" fill="#262626" font-weight="normal"  >4:00</text>
<text x="625.1999999999999" y="438.6" font-size="11.0" text-anchor="middle" fill="#262626" font-weight="normal"  >PM</text>
</svg></body></html>
